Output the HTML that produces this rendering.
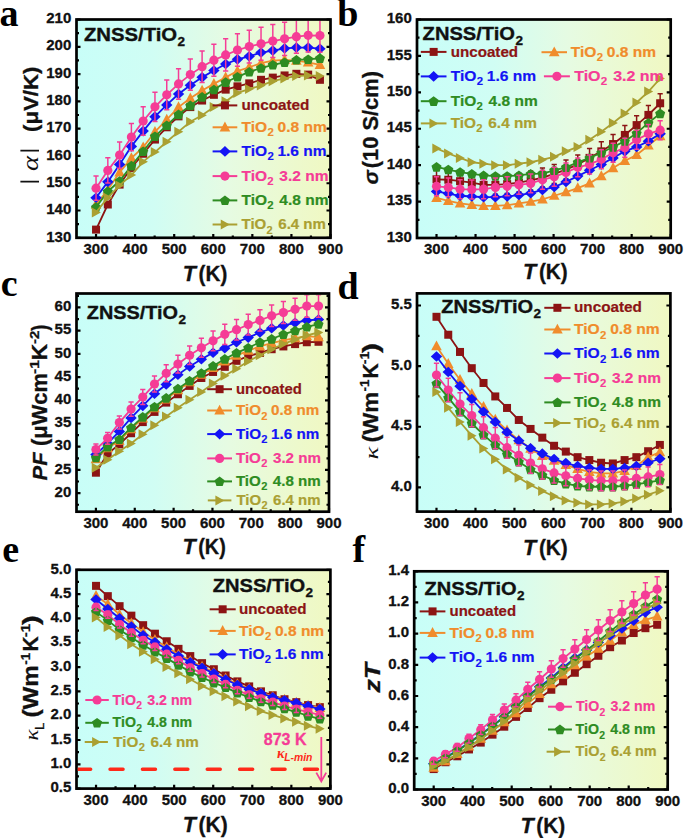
<!DOCTYPE html>
<html><head><meta charset="utf-8"><style>
html,body{margin:0;padding:0;background:#fff;}
svg{display:block;}
text{font-family:"Liberation Sans",sans-serif;}
.tl{font-weight:bold;font-size:15px;fill:#111;stroke:#111;stroke-width:0.3px;}
.lg{font-weight:bold;font-size:15px;}
.tt{font-weight:bold;font-size:19px;fill:#111;stroke:#111;stroke-width:0.35px;}
.pl{font-family:"Liberation Serif",serif;font-weight:bold;font-size:38px;fill:#000;}
.ax{font-weight:bold;font-size:21.6px;fill:#111;stroke:#111;stroke-width:0.3px;}
</style></head><body>
<svg width="685" height="838" viewBox="0 0 685 838">
<defs><linearGradient id="bga" gradientUnits="userSpaceOnUse" x1="76.5" y1="0" x2="330.5" y2="0"><stop offset="0" stop-color="#c8fef8"/><stop offset="0.3" stop-color="#d0fdf4"/><stop offset="0.6" stop-color="#e6fbe2"/><stop offset="1" stop-color="#f0f8c2"/></linearGradient><linearGradient id="bgb" gradientUnits="userSpaceOnUse" x1="417" y1="0" x2="670.7" y2="0"><stop offset="0" stop-color="#c8fef8"/><stop offset="0.3" stop-color="#d0fdf4"/><stop offset="0.6" stop-color="#e6fbe2"/><stop offset="1" stop-color="#f0f8c2"/></linearGradient><linearGradient id="bgc" gradientUnits="userSpaceOnUse" x1="76.5" y1="0" x2="329" y2="0"><stop offset="0" stop-color="#c8fef8"/><stop offset="0.3" stop-color="#d0fdf4"/><stop offset="0.6" stop-color="#e6fbe2"/><stop offset="1" stop-color="#f0f8c2"/></linearGradient><linearGradient id="bgd" gradientUnits="userSpaceOnUse" x1="417" y1="0" x2="670.4" y2="0"><stop offset="0" stop-color="#c8fef8"/><stop offset="0.3" stop-color="#d0fdf4"/><stop offset="0.6" stop-color="#e6fbe2"/><stop offset="1" stop-color="#f0f8c2"/></linearGradient><linearGradient id="bge" gradientUnits="userSpaceOnUse" x1="76.5" y1="0" x2="330.4" y2="0"><stop offset="0" stop-color="#c8fef8"/><stop offset="0.3" stop-color="#d0fdf4"/><stop offset="0.6" stop-color="#e6fbe2"/><stop offset="1" stop-color="#f0f8c2"/></linearGradient><linearGradient id="bgf" gradientUnits="userSpaceOnUse" x1="414.2" y1="0" x2="667.7" y2="0"><stop offset="0" stop-color="#c8fef8"/><stop offset="0.3" stop-color="#d0fdf4"/><stop offset="0.6" stop-color="#e6fbe2"/><stop offset="1" stop-color="#f0f8c2"/></linearGradient></defs>
<rect x="76.5" y="19.5" width="254.00" height="218.30" fill="url(#bga)"/>
<clipPath id="ca"><rect x="77.7" y="20.7" width="251.60" height="215.90"/></clipPath>
<path d="M96.04,237.8v-3.9M135.12,237.8v-3.9M174.19,237.8v-3.9M213.27,237.8v-3.9M252.35,237.8v-3.9M291.42,237.8v-3.9M330.50,237.8v-3.9M115.58,237.8v-2.4M154.65,237.8v-2.4M193.73,237.8v-2.4M232.81,237.8v-2.4M271.88,237.8v-2.4M310.96,237.8v-2.4M76.5,237.80h4.0M330.5,237.80h-4.0M76.5,224.16h2.5M330.5,224.16h-2.5M76.5,210.51h4.0M330.5,210.51h-4.0M76.5,196.87h2.5M330.5,196.87h-2.5M76.5,183.23h4.0M330.5,183.23h-4.0M76.5,169.58h2.5M330.5,169.58h-2.5M76.5,155.94h4.0M330.5,155.94h-4.0M76.5,142.29h2.5M330.5,142.29h-2.5M76.5,128.65h4.0M330.5,128.65h-4.0M76.5,115.01h2.5M330.5,115.01h-2.5M76.5,101.36h4.0M330.5,101.36h-4.0M76.5,87.72h2.5M330.5,87.72h-2.5M76.5,74.07h4.0M330.5,74.07h-4.0M76.5,60.43h2.5M330.5,60.43h-2.5M76.5,46.79h4.0M330.5,46.79h-4.0M76.5,33.14h2.5M330.5,33.14h-2.5M76.5,19.50h4.0M330.5,19.50h-4.0" stroke="#000" stroke-width="2.2" fill="none"/>
<g clip-path="url(#ca)">
<polyline points="96.04,229.61 107.82,204.51 119.61,184.59 131.39,167.94 143.18,153.75 154.96,139.56 166.75,127.29 178.53,116.37 190.32,107.09 202.10,100.54 213.89,94.81 225.67,89.63 237.46,86.35 249.24,83.35 261.03,79.81 272.81,77.62 284.59,75.44 296.38,73.80 308.16,74.62 319.95,79.81" fill="none" stroke="#8c1414" stroke-width="1.8"/>
<rect x="92.04" y="225.61" width="8.00" height="8.00" fill="#8c1414"/>
<rect x="103.82" y="200.51" width="8.00" height="8.00" fill="#8c1414"/>
<rect x="115.61" y="180.59" width="8.00" height="8.00" fill="#8c1414"/>
<rect x="127.39" y="163.94" width="8.00" height="8.00" fill="#8c1414"/>
<rect x="139.18" y="149.75" width="8.00" height="8.00" fill="#8c1414"/>
<rect x="150.96" y="135.56" width="8.00" height="8.00" fill="#8c1414"/>
<rect x="162.75" y="123.29" width="8.00" height="8.00" fill="#8c1414"/>
<rect x="174.53" y="112.37" width="8.00" height="8.00" fill="#8c1414"/>
<rect x="186.32" y="103.09" width="8.00" height="8.00" fill="#8c1414"/>
<rect x="198.10" y="96.54" width="8.00" height="8.00" fill="#8c1414"/>
<rect x="209.89" y="90.81" width="8.00" height="8.00" fill="#8c1414"/>
<rect x="221.67" y="85.63" width="8.00" height="8.00" fill="#8c1414"/>
<rect x="233.46" y="82.35" width="8.00" height="8.00" fill="#8c1414"/>
<rect x="245.24" y="79.35" width="8.00" height="8.00" fill="#8c1414"/>
<rect x="257.03" y="75.81" width="8.00" height="8.00" fill="#8c1414"/>
<rect x="268.81" y="73.62" width="8.00" height="8.00" fill="#8c1414"/>
<rect x="280.59" y="71.44" width="8.00" height="8.00" fill="#8c1414"/>
<rect x="292.38" y="69.80" width="8.00" height="8.00" fill="#8c1414"/>
<rect x="304.16" y="70.62" width="8.00" height="8.00" fill="#8c1414"/>
<rect x="315.95" y="75.81" width="8.00" height="8.00" fill="#8c1414"/>
<polyline points="96.04,204.51 107.82,189.77 119.61,172.31 131.39,158.12 143.18,147.21 154.96,131.92 166.75,119.65 178.53,107.09 190.32,98.36 202.10,90.45 213.89,83.90 225.67,77.35 237.46,71.07 249.24,67.25 261.03,63.16 272.81,60.70 284.59,59.89 296.38,60.70 308.16,62.34 319.95,64.80" fill="none" stroke="#f08c2c" stroke-width="1.8"/>
<path d="M96.04,198.71L101.34,208.61L90.74,208.61Z" fill="#f08c2c"/>
<path d="M107.82,183.97L113.12,193.87L102.52,193.87Z" fill="#f08c2c"/>
<path d="M119.61,166.51L124.91,176.41L114.31,176.41Z" fill="#f08c2c"/>
<path d="M131.39,152.32L136.69,162.22L126.09,162.22Z" fill="#f08c2c"/>
<path d="M143.18,141.41L148.48,151.31L137.88,151.31Z" fill="#f08c2c"/>
<path d="M154.96,126.12L160.26,136.02L149.66,136.02Z" fill="#f08c2c"/>
<path d="M166.75,113.85L172.05,123.75L161.45,123.75Z" fill="#f08c2c"/>
<path d="M178.53,101.29L183.83,111.19L173.23,111.19Z" fill="#f08c2c"/>
<path d="M190.32,92.56L195.62,102.46L185.02,102.46Z" fill="#f08c2c"/>
<path d="M202.10,84.65L207.40,94.55L196.80,94.55Z" fill="#f08c2c"/>
<path d="M213.89,78.10L219.19,88.00L208.59,88.00Z" fill="#f08c2c"/>
<path d="M225.67,71.55L230.97,81.45L220.37,81.45Z" fill="#f08c2c"/>
<path d="M237.46,65.27L242.76,75.17L232.16,75.17Z" fill="#f08c2c"/>
<path d="M249.24,61.45L254.54,71.35L243.94,71.35Z" fill="#f08c2c"/>
<path d="M261.03,57.36L266.33,67.26L255.73,67.26Z" fill="#f08c2c"/>
<path d="M272.81,54.90L278.11,64.80L267.51,64.80Z" fill="#f08c2c"/>
<path d="M284.59,54.09L289.89,63.99L279.29,63.99Z" fill="#f08c2c"/>
<path d="M296.38,54.90L301.68,64.80L291.08,64.80Z" fill="#f08c2c"/>
<path d="M308.16,56.54L313.46,66.44L302.86,66.44Z" fill="#f08c2c"/>
<path d="M319.95,59.00L325.25,68.90L314.65,68.90Z" fill="#f08c2c"/>
<polyline points="96.04,197.69 107.82,181.86 119.61,164.40 131.39,146.39 143.18,131.11 154.96,116.64 166.75,104.91 178.53,93.99 190.32,85.26 202.10,77.35 213.89,70.53 225.67,63.98 237.46,59.34 249.24,56.34 261.03,52.52 272.81,50.61 284.59,48.42 296.38,47.61 308.16,47.61 319.95,48.70" fill="none" stroke="#1414f5" stroke-width="1.8"/>
<path d="M96.04,192.39L101.74,197.69L96.04,202.99L90.34,197.69Z" fill="#1414f5"/>
<path d="M107.82,176.56L113.52,181.86L107.82,187.16L102.12,181.86Z" fill="#1414f5"/>
<path d="M119.61,159.10L125.31,164.40L119.61,169.70L113.91,164.40Z" fill="#1414f5"/>
<path d="M131.39,141.09L137.09,146.39L131.39,151.69L125.69,146.39Z" fill="#1414f5"/>
<path d="M143.18,125.81L148.88,131.11L143.18,136.41L137.48,131.11Z" fill="#1414f5"/>
<path d="M154.96,111.34L160.66,116.64L154.96,121.94L149.26,116.64Z" fill="#1414f5"/>
<path d="M166.75,99.61L172.45,104.91L166.75,110.21L161.05,104.91Z" fill="#1414f5"/>
<path d="M178.53,88.69L184.23,93.99L178.53,99.29L172.83,93.99Z" fill="#1414f5"/>
<path d="M190.32,79.96L196.02,85.26L190.32,90.56L184.62,85.26Z" fill="#1414f5"/>
<path d="M202.10,72.05L207.80,77.35L202.10,82.65L196.40,77.35Z" fill="#1414f5"/>
<path d="M213.89,65.23L219.59,70.53L213.89,75.83L208.19,70.53Z" fill="#1414f5"/>
<path d="M225.67,58.68L231.37,63.98L225.67,69.28L219.97,63.98Z" fill="#1414f5"/>
<path d="M237.46,54.04L243.16,59.34L237.46,64.64L231.76,59.34Z" fill="#1414f5"/>
<path d="M249.24,51.04L254.94,56.34L249.24,61.64L243.54,56.34Z" fill="#1414f5"/>
<path d="M261.03,47.22L266.73,52.52L261.03,57.82L255.33,52.52Z" fill="#1414f5"/>
<path d="M272.81,45.31L278.51,50.61L272.81,55.91L267.11,50.61Z" fill="#1414f5"/>
<path d="M284.59,43.12L290.29,48.42L284.59,53.72L278.89,48.42Z" fill="#1414f5"/>
<path d="M296.38,42.31L302.08,47.61L296.38,52.91L290.68,47.61Z" fill="#1414f5"/>
<path d="M308.16,42.31L313.86,47.61L308.16,52.91L302.46,47.61Z" fill="#1414f5"/>
<path d="M319.95,43.40L325.65,48.70L319.95,54.00L314.25,48.70Z" fill="#1414f5"/>
<polyline points="96.04,188.14 107.82,170.40 119.61,155.12 131.39,137.11 143.18,121.01 154.96,106.82 166.75,94.81 178.53,83.90 190.32,74.62 202.10,66.71 213.89,60.16 225.67,54.97 237.46,50.06 249.24,46.51 261.03,43.79 272.81,41.06 284.59,38.87 296.38,36.69 308.16,35.33 319.95,35.60" fill="none" stroke="#f53c96" stroke-width="1.8"/>
<circle cx="96.04" cy="188.14" r="4.6" fill="#f53c96"/>
<circle cx="107.82" cy="170.40" r="4.6" fill="#f53c96"/>
<circle cx="119.61" cy="155.12" r="4.6" fill="#f53c96"/>
<circle cx="131.39" cy="137.11" r="4.6" fill="#f53c96"/>
<circle cx="143.18" cy="121.01" r="4.6" fill="#f53c96"/>
<circle cx="154.96" cy="106.82" r="4.6" fill="#f53c96"/>
<circle cx="166.75" cy="94.81" r="4.6" fill="#f53c96"/>
<circle cx="178.53" cy="83.90" r="4.6" fill="#f53c96"/>
<circle cx="190.32" cy="74.62" r="4.6" fill="#f53c96"/>
<circle cx="202.10" cy="66.71" r="4.6" fill="#f53c96"/>
<circle cx="213.89" cy="60.16" r="4.6" fill="#f53c96"/>
<circle cx="225.67" cy="54.97" r="4.6" fill="#f53c96"/>
<circle cx="237.46" cy="50.06" r="4.6" fill="#f53c96"/>
<circle cx="249.24" cy="46.51" r="4.6" fill="#f53c96"/>
<circle cx="261.03" cy="43.79" r="4.6" fill="#f53c96"/>
<circle cx="272.81" cy="41.06" r="4.6" fill="#f53c96"/>
<circle cx="284.59" cy="38.87" r="4.6" fill="#f53c96"/>
<circle cx="296.38" cy="36.69" r="4.6" fill="#f53c96"/>
<circle cx="308.16" cy="35.33" r="4.6" fill="#f53c96"/>
<circle cx="319.95" cy="35.60" r="4.6" fill="#f53c96"/>
<polyline points="96.04,207.24 107.82,191.41 119.61,181.04 131.39,165.76 143.18,151.30 154.96,136.29 166.75,125.38 178.53,114.46 190.32,105.46 202.10,97.00 213.89,89.63 225.67,82.26 237.46,76.80 249.24,71.89 261.03,68.07 272.81,64.80 284.59,62.34 296.38,59.89 308.16,59.34 319.95,58.25" fill="none" stroke="#2e8c22" stroke-width="1.8"/>
<path d="M96.04,202.34L91.00,206.00L92.92,211.93L99.15,211.93L101.08,206.00Z" fill="#2e8c22"/>
<path d="M107.82,186.51L102.78,190.17L104.71,196.10L110.94,196.10L112.86,190.17Z" fill="#2e8c22"/>
<path d="M119.61,176.14L114.57,179.80L116.49,185.73L122.72,185.73L124.65,179.80Z" fill="#2e8c22"/>
<path d="M131.39,160.86L126.35,164.52L128.28,170.45L134.51,170.45L136.43,164.52Z" fill="#2e8c22"/>
<path d="M143.18,146.40L138.14,150.06L140.06,155.99L146.29,155.99L148.22,150.06Z" fill="#2e8c22"/>
<path d="M154.96,131.39L149.92,135.05L151.85,140.98L158.08,140.98L160.00,135.05Z" fill="#2e8c22"/>
<path d="M166.75,120.48L161.71,124.14L163.63,130.06L169.86,130.06L171.79,124.14Z" fill="#2e8c22"/>
<path d="M178.53,109.56L173.49,113.22L175.42,119.15L181.65,119.15L183.57,113.22Z" fill="#2e8c22"/>
<path d="M190.32,100.56L185.28,104.22L187.20,110.14L193.43,110.14L195.36,104.22Z" fill="#2e8c22"/>
<path d="M202.10,92.10L197.06,95.76L198.99,101.68L205.22,101.68L207.14,95.76Z" fill="#2e8c22"/>
<path d="M213.89,84.73L208.85,88.39L210.77,94.32L217.00,94.32L218.93,88.39Z" fill="#2e8c22"/>
<path d="M225.67,77.36L220.63,81.02L222.56,86.95L228.79,86.95L230.71,81.02Z" fill="#2e8c22"/>
<path d="M237.46,71.90L232.42,75.57L234.34,81.49L240.57,81.49L242.50,75.57Z" fill="#2e8c22"/>
<path d="M249.24,66.99L244.20,70.65L246.13,76.58L252.36,76.58L254.28,70.65Z" fill="#2e8c22"/>
<path d="M261.03,63.17L255.98,66.83L257.91,72.76L264.14,72.76L266.07,66.83Z" fill="#2e8c22"/>
<path d="M272.81,59.90L267.77,63.56L269.69,69.49L275.93,69.49L277.85,63.56Z" fill="#2e8c22"/>
<path d="M284.59,57.44L279.55,61.10L281.48,67.03L287.71,67.03L289.64,61.10Z" fill="#2e8c22"/>
<path d="M296.38,54.99L291.34,58.65L293.26,64.57L299.49,64.57L301.42,58.65Z" fill="#2e8c22"/>
<path d="M308.16,54.44L303.12,58.10L305.05,64.03L311.28,64.03L313.21,58.10Z" fill="#2e8c22"/>
<path d="M319.95,53.35L314.91,57.01L316.83,62.94L323.06,62.94L324.99,57.01Z" fill="#2e8c22"/>
<polyline points="96.04,212.42 107.82,197.69 119.61,185.41 131.39,175.04 143.18,161.67 154.96,152.12 166.75,141.75 178.53,131.65 190.32,121.83 202.10,115.28 213.89,107.09 225.67,101.36 237.46,92.90 249.24,89.08 261.03,85.54 272.81,81.17 284.59,78.44 296.38,75.99 308.16,75.44 319.95,75.99" fill="none" stroke="#aaa032" stroke-width="1.8"/>
<path d="M100.84,212.42L91.84,207.42L91.84,217.42Z" fill="#aaa032"/>
<path d="M112.62,197.69L103.62,192.69L103.62,202.69Z" fill="#aaa032"/>
<path d="M124.41,185.41L115.41,180.41L115.41,190.41Z" fill="#aaa032"/>
<path d="M136.19,175.04L127.19,170.04L127.19,180.04Z" fill="#aaa032"/>
<path d="M147.98,161.67L138.98,156.67L138.98,166.67Z" fill="#aaa032"/>
<path d="M159.76,152.12L150.76,147.12L150.76,157.12Z" fill="#aaa032"/>
<path d="M171.55,141.75L162.55,136.75L162.55,146.75Z" fill="#aaa032"/>
<path d="M183.33,131.65L174.33,126.65L174.33,136.65Z" fill="#aaa032"/>
<path d="M195.12,121.83L186.12,116.83L186.12,126.83Z" fill="#aaa032"/>
<path d="M206.90,115.28L197.90,110.28L197.90,120.28Z" fill="#aaa032"/>
<path d="M218.69,107.09L209.69,102.09L209.69,112.09Z" fill="#aaa032"/>
<path d="M230.47,101.36L221.47,96.36L221.47,106.36Z" fill="#aaa032"/>
<path d="M242.26,92.90L233.26,87.90L233.26,97.90Z" fill="#aaa032"/>
<path d="M254.04,89.08L245.04,84.08L245.04,94.08Z" fill="#aaa032"/>
<path d="M265.83,85.54L256.83,80.54L256.83,90.54Z" fill="#aaa032"/>
<path d="M277.61,81.17L268.61,76.17L268.61,86.17Z" fill="#aaa032"/>
<path d="M289.39,78.44L280.39,73.44L280.39,83.44Z" fill="#aaa032"/>
<path d="M301.18,75.99L292.18,70.99L292.18,80.99Z" fill="#aaa032"/>
<path d="M312.96,75.44L303.96,70.44L303.96,80.44Z" fill="#aaa032"/>
<path d="M324.75,75.99L315.75,70.99L315.75,80.99Z" fill="#aaa032"/>
<path d="M96.04,176.00V200.27M93.44,176.00h5.2M93.44,200.27h5.2M107.82,157.74V183.06M105.22,157.74h5.2M105.22,183.06h5.2M119.61,142.00V168.24M117.01,142.00h5.2M117.01,168.24h5.2M131.39,123.45V150.77M128.79,123.45h5.2M128.79,150.77h5.2M143.18,106.86V135.16M140.58,106.86h5.2M140.58,135.16h5.2M154.96,92.25V121.39M152.36,92.25h5.2M152.36,121.39h5.2M166.75,79.88V109.75M164.15,79.88h5.2M164.15,109.75h5.2M178.53,68.64V99.16M175.93,68.64h5.2M175.93,99.16h5.2M190.32,59.08V90.16M187.72,59.08h5.2M187.72,90.16h5.2M202.10,50.93V82.48M199.50,50.93h5.2M199.50,82.48h5.2M213.89,44.19V76.13M211.29,44.19h5.2M211.29,76.13h5.2M225.67,38.85V71.10M223.07,38.85h5.2M223.07,71.10h5.2M237.46,33.79V66.34M234.86,33.79h5.2M234.86,66.34h5.2M249.24,30.13V62.90M246.64,30.13h5.2M246.64,62.90h5.2M261.03,27.32V60.25M258.43,27.32h5.2M258.43,60.25h5.2M272.81,24.51V57.60M270.21,24.51h5.2M270.21,57.60h5.2M284.59,22.26V55.48M281.99,22.26h5.2M281.99,55.48h5.2M296.38,20.02V53.37M293.78,20.02h5.2M293.78,53.37h5.2M308.16,18.61V52.04M305.56,18.61h5.2M305.56,52.04h5.2M319.95,18.89V52.31M317.35,18.89h5.2M317.35,52.31h5.2" stroke="#f53c96" stroke-width="1.5" fill="none"/>
</g>
<rect x="76.5" y="19.5" width="254.00" height="218.30" fill="none" stroke="#000" stroke-width="2.7"/>
<text x="96.04" y="253.80" class="tl" text-anchor="middle">300</text>
<text x="135.12" y="253.80" class="tl" text-anchor="middle">400</text>
<text x="174.19" y="253.80" class="tl" text-anchor="middle">500</text>
<text x="213.27" y="253.80" class="tl" text-anchor="middle">600</text>
<text x="252.35" y="253.80" class="tl" text-anchor="middle">700</text>
<text x="291.42" y="253.80" class="tl" text-anchor="middle">800</text>
<text x="330.50" y="253.80" class="tl" text-anchor="middle">900</text>
<text x="71.30" y="241.50" class="tl" text-anchor="end">130</text>
<text x="71.30" y="214.21" class="tl" text-anchor="end">140</text>
<text x="71.30" y="186.93" class="tl" text-anchor="end">150</text>
<text x="71.30" y="159.64" class="tl" text-anchor="end">160</text>
<text x="71.30" y="132.35" class="tl" text-anchor="end">170</text>
<text x="71.30" y="105.06" class="tl" text-anchor="end">180</text>
<text x="71.30" y="77.77" class="tl" text-anchor="end">190</text>
<text x="71.30" y="50.49" class="tl" text-anchor="end">200</text>
<text x="71.30" y="23.20" class="tl" text-anchor="end">210</text>
<rect x="417" y="19.5" width="253.70" height="218.50" fill="url(#bgb)"/>
<clipPath id="cb"><rect x="418.2" y="20.7" width="251.30" height="216.10"/></clipPath>
<path d="M436.52,238v-3.9M475.55,238v-3.9M514.58,238v-3.9M553.61,238v-3.9M592.64,238v-3.9M631.67,238v-3.9M670.70,238v-3.9M456.03,238v-2.4M495.06,238v-2.4M534.09,238v-2.4M573.12,238v-2.4M612.15,238v-2.4M651.18,238v-2.4M417,238.00h4.0M670.7,238.00h-4.0M417,219.79h2.5M670.7,219.79h-2.5M417,201.58h4.0M670.7,201.58h-4.0M417,183.38h2.5M670.7,183.38h-2.5M417,165.17h4.0M670.7,165.17h-4.0M417,146.96h2.5M670.7,146.96h-2.5M417,128.75h4.0M670.7,128.75h-4.0M417,110.54h2.5M670.7,110.54h-2.5M417,92.33h4.0M670.7,92.33h-4.0M417,74.12h2.5M670.7,74.12h-2.5M417,55.92h4.0M670.7,55.92h-4.0M417,37.71h2.5M670.7,37.71h-2.5M417,19.50h4.0M670.7,19.50h-4.0" stroke="#000" stroke-width="2.2" fill="none"/>
<g clip-path="url(#cb)">
<polyline points="436.52,179.30 448.29,179.73 460.06,181.19 471.83,182.65 483.60,184.83 495.37,184.83 507.14,184.10 518.91,182.65 530.68,180.46 542.45,177.55 554.22,173.91 565.99,169.54 577.77,164.44 589.54,157.88 601.31,151.33 613.08,144.04 624.85,134.94 636.62,125.11 648.39,114.91 660.16,103.26" fill="none" stroke="#8c1414" stroke-width="1.8"/>
<rect x="432.52" y="175.30" width="8.00" height="8.00" fill="#8c1414"/>
<rect x="444.29" y="175.73" width="8.00" height="8.00" fill="#8c1414"/>
<rect x="456.06" y="177.19" width="8.00" height="8.00" fill="#8c1414"/>
<rect x="467.83" y="178.65" width="8.00" height="8.00" fill="#8c1414"/>
<rect x="479.60" y="180.83" width="8.00" height="8.00" fill="#8c1414"/>
<rect x="491.37" y="180.83" width="8.00" height="8.00" fill="#8c1414"/>
<rect x="503.14" y="180.10" width="8.00" height="8.00" fill="#8c1414"/>
<rect x="514.91" y="178.65" width="8.00" height="8.00" fill="#8c1414"/>
<rect x="526.68" y="176.46" width="8.00" height="8.00" fill="#8c1414"/>
<rect x="538.45" y="173.55" width="8.00" height="8.00" fill="#8c1414"/>
<rect x="550.22" y="169.91" width="8.00" height="8.00" fill="#8c1414"/>
<rect x="561.99" y="165.54" width="8.00" height="8.00" fill="#8c1414"/>
<rect x="573.77" y="160.44" width="8.00" height="8.00" fill="#8c1414"/>
<rect x="585.54" y="153.88" width="8.00" height="8.00" fill="#8c1414"/>
<rect x="597.31" y="147.33" width="8.00" height="8.00" fill="#8c1414"/>
<rect x="609.08" y="140.04" width="8.00" height="8.00" fill="#8c1414"/>
<rect x="620.85" y="130.94" width="8.00" height="8.00" fill="#8c1414"/>
<rect x="632.62" y="121.11" width="8.00" height="8.00" fill="#8c1414"/>
<rect x="644.39" y="110.91" width="8.00" height="8.00" fill="#8c1414"/>
<rect x="656.16" y="99.26" width="8.00" height="8.00" fill="#8c1414"/>
<path d="M436.52,169.83V188.76M433.92,169.83h5.2M433.92,188.76h5.2M448.29,170.26V189.20M445.69,170.26h5.2M445.69,189.20h5.2M460.06,171.72V190.66M457.46,171.72h5.2M457.46,190.66h5.2M471.83,173.18V192.12M469.23,173.18h5.2M469.23,192.12h5.2M483.60,175.36V194.30M481.00,175.36h5.2M481.00,194.30h5.2M495.37,175.36V194.30M492.77,175.36h5.2M492.77,194.30h5.2M507.14,174.63V193.57M504.54,174.63h5.2M504.54,193.57h5.2M518.91,173.18V192.12M516.31,173.18h5.2M516.31,192.12h5.2M530.68,170.99V189.93M528.08,170.99h5.2M528.08,189.93h5.2M542.45,168.08V187.02M539.85,168.08h5.2M539.85,187.02h5.2M554.22,164.44V183.38M551.62,164.44h5.2M551.62,183.38h5.2M565.99,160.07V179.01M563.39,160.07h5.2M563.39,179.01h5.2M577.77,154.97V173.91M575.17,154.97h5.2M575.17,173.91h5.2M589.54,148.41V167.35M586.94,148.41h5.2M586.94,167.35h5.2M601.31,141.86V160.80M598.71,141.86h5.2M598.71,160.80h5.2M613.08,134.58V153.51M610.48,134.58h5.2M610.48,153.51h5.2M624.85,125.47V144.41M622.25,125.47h5.2M622.25,144.41h5.2M636.62,115.64V134.58M634.02,115.64h5.2M634.02,134.58h5.2M648.39,105.44V124.38M645.79,105.44h5.2M645.79,124.38h5.2M660.16,93.79V112.73M657.56,93.79h5.2M657.56,112.73h5.2" stroke="#8c1414" stroke-width="1.5" fill="none"/>
<polyline points="436.52,197.94 448.29,200.86 460.06,203.40 471.83,204.86 483.60,205.95 495.37,205.95 507.14,205.22 518.91,203.40 530.68,201.58 542.45,199.40 554.22,195.76 565.99,192.11 577.77,188.11 589.54,183.38 601.31,176.09 613.08,168.08 624.85,160.80 636.62,154.97 648.39,145.50 660.16,136.03" fill="none" stroke="#f08c2c" stroke-width="1.8"/>
<path d="M436.52,192.14L441.82,202.04L431.22,202.04Z" fill="#f08c2c"/>
<path d="M448.29,195.06L453.59,204.96L442.99,204.96Z" fill="#f08c2c"/>
<path d="M460.06,197.60L465.36,207.50L454.76,207.50Z" fill="#f08c2c"/>
<path d="M471.83,199.06L477.13,208.96L466.53,208.96Z" fill="#f08c2c"/>
<path d="M483.60,200.15L488.90,210.05L478.30,210.05Z" fill="#f08c2c"/>
<path d="M495.37,200.15L500.67,210.05L490.07,210.05Z" fill="#f08c2c"/>
<path d="M507.14,199.42L512.44,209.32L501.84,209.32Z" fill="#f08c2c"/>
<path d="M518.91,197.60L524.21,207.50L513.61,207.50Z" fill="#f08c2c"/>
<path d="M530.68,195.78L535.98,205.68L525.38,205.68Z" fill="#f08c2c"/>
<path d="M542.45,193.60L547.75,203.50L537.15,203.50Z" fill="#f08c2c"/>
<path d="M554.22,189.96L559.52,199.86L548.92,199.86Z" fill="#f08c2c"/>
<path d="M565.99,186.31L571.29,196.21L560.69,196.21Z" fill="#f08c2c"/>
<path d="M577.77,182.31L583.07,192.21L572.47,192.21Z" fill="#f08c2c"/>
<path d="M589.54,177.57L594.84,187.47L584.24,187.47Z" fill="#f08c2c"/>
<path d="M601.31,170.29L606.61,180.19L596.01,180.19Z" fill="#f08c2c"/>
<path d="M613.08,162.28L618.38,172.18L607.78,172.18Z" fill="#f08c2c"/>
<path d="M624.85,155.00L630.15,164.90L619.55,164.90Z" fill="#f08c2c"/>
<path d="M636.62,149.17L641.92,159.07L631.32,159.07Z" fill="#f08c2c"/>
<path d="M648.39,139.70L653.69,149.60L643.09,149.60Z" fill="#f08c2c"/>
<path d="M660.16,130.23L665.46,140.13L654.86,140.13Z" fill="#f08c2c"/>
<polyline points="436.52,191.39 448.29,193.57 460.06,195.76 471.83,196.49 483.60,197.21 495.37,197.21 507.14,196.49 518.91,195.03 530.68,193.21 542.45,189.93 554.22,187.02 565.99,181.92 577.77,176.09 589.54,170.26 601.31,164.44 613.08,157.88 624.85,151.33 636.62,146.96 648.39,141.13 660.16,133.85" fill="none" stroke="#1414f5" stroke-width="1.8"/>
<path d="M436.52,186.09L442.22,191.39L436.52,196.69L430.82,191.39Z" fill="#1414f5"/>
<path d="M448.29,188.27L453.99,193.57L448.29,198.87L442.59,193.57Z" fill="#1414f5"/>
<path d="M460.06,190.46L465.76,195.76L460.06,201.06L454.36,195.76Z" fill="#1414f5"/>
<path d="M471.83,191.19L477.53,196.49L471.83,201.79L466.13,196.49Z" fill="#1414f5"/>
<path d="M483.60,191.91L489.30,197.21L483.60,202.51L477.90,197.21Z" fill="#1414f5"/>
<path d="M495.37,191.91L501.07,197.21L495.37,202.51L489.67,197.21Z" fill="#1414f5"/>
<path d="M507.14,191.19L512.84,196.49L507.14,201.79L501.44,196.49Z" fill="#1414f5"/>
<path d="M518.91,189.73L524.61,195.03L518.91,200.33L513.21,195.03Z" fill="#1414f5"/>
<path d="M530.68,187.91L536.38,193.21L530.68,198.51L524.98,193.21Z" fill="#1414f5"/>
<path d="M542.45,184.63L548.15,189.93L542.45,195.23L536.75,189.93Z" fill="#1414f5"/>
<path d="M554.22,181.72L559.92,187.02L554.22,192.32L548.52,187.02Z" fill="#1414f5"/>
<path d="M565.99,176.62L571.69,181.92L565.99,187.22L560.29,181.92Z" fill="#1414f5"/>
<path d="M577.77,170.79L583.47,176.09L577.77,181.39L572.07,176.09Z" fill="#1414f5"/>
<path d="M589.54,164.96L595.24,170.26L589.54,175.56L583.84,170.26Z" fill="#1414f5"/>
<path d="M601.31,159.14L607.01,164.44L601.31,169.74L595.61,164.44Z" fill="#1414f5"/>
<path d="M613.08,152.58L618.78,157.88L613.08,163.18L607.38,157.88Z" fill="#1414f5"/>
<path d="M624.85,146.03L630.55,151.33L624.85,156.63L619.15,151.33Z" fill="#1414f5"/>
<path d="M636.62,141.66L642.32,146.96L636.62,152.26L630.92,146.96Z" fill="#1414f5"/>
<path d="M648.39,135.83L654.09,141.13L648.39,146.43L642.69,141.13Z" fill="#1414f5"/>
<path d="M660.16,128.55L665.86,133.85L660.16,139.15L654.46,133.85Z" fill="#1414f5"/>
<polyline points="436.52,186.29 448.29,187.38 460.06,189.20 471.83,189.57 483.60,189.20 495.37,187.38 507.14,186.29 518.91,184.83 530.68,183.38 542.45,179.73 554.22,176.82 565.99,172.45 577.77,167.35 589.54,164.44 601.31,159.34 613.08,152.79 624.85,147.69 636.62,139.68 648.39,133.85 660.16,130.21" fill="none" stroke="#f53c96" stroke-width="1.8"/>
<circle cx="436.52" cy="186.29" r="4.6" fill="#f53c96"/>
<circle cx="448.29" cy="187.38" r="4.6" fill="#f53c96"/>
<circle cx="460.06" cy="189.20" r="4.6" fill="#f53c96"/>
<circle cx="471.83" cy="189.57" r="4.6" fill="#f53c96"/>
<circle cx="483.60" cy="189.20" r="4.6" fill="#f53c96"/>
<circle cx="495.37" cy="187.38" r="4.6" fill="#f53c96"/>
<circle cx="507.14" cy="186.29" r="4.6" fill="#f53c96"/>
<circle cx="518.91" cy="184.83" r="4.6" fill="#f53c96"/>
<circle cx="530.68" cy="183.38" r="4.6" fill="#f53c96"/>
<circle cx="542.45" cy="179.73" r="4.6" fill="#f53c96"/>
<circle cx="554.22" cy="176.82" r="4.6" fill="#f53c96"/>
<circle cx="565.99" cy="172.45" r="4.6" fill="#f53c96"/>
<circle cx="577.77" cy="167.35" r="4.6" fill="#f53c96"/>
<circle cx="589.54" cy="164.44" r="4.6" fill="#f53c96"/>
<circle cx="601.31" cy="159.34" r="4.6" fill="#f53c96"/>
<circle cx="613.08" cy="152.79" r="4.6" fill="#f53c96"/>
<circle cx="624.85" cy="147.69" r="4.6" fill="#f53c96"/>
<circle cx="636.62" cy="139.68" r="4.6" fill="#f53c96"/>
<circle cx="648.39" cy="133.85" r="4.6" fill="#f53c96"/>
<circle cx="660.16" cy="130.21" r="4.6" fill="#f53c96"/>
<polyline points="436.52,166.99 448.29,169.54 460.06,172.09 471.83,173.91 483.60,175.36 495.37,176.09 507.14,176.09 518.91,175.36 530.68,173.91 542.45,173.54 554.22,170.26 565.99,167.35 577.77,162.25 589.54,157.88 601.31,152.79 613.08,146.96 624.85,141.13 636.62,133.12 648.39,122.92 660.16,113.46" fill="none" stroke="#2e8c22" stroke-width="1.8"/>
<path d="M436.52,162.09L431.47,165.75L433.40,171.68L439.63,171.68L441.56,165.75Z" fill="#2e8c22"/>
<path d="M448.29,164.64L443.25,168.30L445.17,174.22L451.40,174.22L453.33,168.30Z" fill="#2e8c22"/>
<path d="M460.06,167.19L455.02,170.85L456.94,176.77L463.17,176.77L465.10,170.85Z" fill="#2e8c22"/>
<path d="M471.83,169.01L466.79,172.67L468.71,178.59L474.94,178.59L476.87,172.67Z" fill="#2e8c22"/>
<path d="M483.60,170.46L478.56,174.13L480.48,180.05L486.71,180.05L488.64,174.13Z" fill="#2e8c22"/>
<path d="M495.37,171.19L490.33,174.85L492.25,180.78L498.48,180.78L500.41,174.85Z" fill="#2e8c22"/>
<path d="M507.14,171.19L502.10,174.85L504.03,180.78L510.26,180.78L512.18,174.85Z" fill="#2e8c22"/>
<path d="M518.91,170.46L513.87,174.13L515.80,180.05L522.03,180.05L523.95,174.13Z" fill="#2e8c22"/>
<path d="M530.68,169.01L525.64,172.67L527.57,178.59L533.80,178.59L535.72,172.67Z" fill="#2e8c22"/>
<path d="M542.45,168.64L537.41,172.30L539.34,178.23L545.57,178.23L547.49,172.30Z" fill="#2e8c22"/>
<path d="M554.22,165.36L549.18,169.03L551.11,174.95L557.34,174.95L559.26,169.03Z" fill="#2e8c22"/>
<path d="M565.99,162.45L560.95,166.11L562.88,172.04L569.11,172.04L571.04,166.11Z" fill="#2e8c22"/>
<path d="M577.77,157.35L572.73,161.02L574.65,166.94L580.88,166.94L582.81,161.02Z" fill="#2e8c22"/>
<path d="M589.54,152.98L584.50,156.65L586.42,162.57L592.65,162.57L594.58,156.65Z" fill="#2e8c22"/>
<path d="M601.31,147.89L596.27,151.55L598.19,157.47L604.42,157.47L606.35,151.55Z" fill="#2e8c22"/>
<path d="M613.08,142.06L608.04,145.72L609.96,151.65L616.19,151.65L618.12,145.72Z" fill="#2e8c22"/>
<path d="M624.85,136.23L619.81,139.89L621.73,145.82L627.96,145.82L629.89,139.89Z" fill="#2e8c22"/>
<path d="M636.62,128.22L631.58,131.88L633.50,137.81L639.74,137.81L641.66,131.88Z" fill="#2e8c22"/>
<path d="M648.39,118.02L643.35,121.69L645.28,127.61L651.51,127.61L653.43,121.69Z" fill="#2e8c22"/>
<path d="M660.16,108.56L655.12,112.22L657.05,118.14L663.28,118.14L665.20,112.22Z" fill="#2e8c22"/>
<polyline points="436.52,148.41 448.29,153.51 460.06,157.88 471.83,162.25 483.60,163.71 495.37,165.17 507.14,165.17 518.91,163.71 530.68,162.25 542.45,159.70 554.22,156.79 565.99,151.33 577.77,146.96 589.54,139.68 601.31,131.66 613.08,122.92 624.85,113.46 636.62,102.53 648.39,91.61 660.16,78.49" fill="none" stroke="#aaa032" stroke-width="1.8"/>
<path d="M441.32,148.41L432.32,143.41L432.32,153.41Z" fill="#aaa032"/>
<path d="M453.09,153.51L444.09,148.51L444.09,158.51Z" fill="#aaa032"/>
<path d="M464.86,157.88L455.86,152.88L455.86,162.88Z" fill="#aaa032"/>
<path d="M476.63,162.25L467.63,157.25L467.63,167.25Z" fill="#aaa032"/>
<path d="M488.40,163.71L479.40,158.71L479.40,168.71Z" fill="#aaa032"/>
<path d="M500.17,165.17L491.17,160.17L491.17,170.17Z" fill="#aaa032"/>
<path d="M511.94,165.17L502.94,160.17L502.94,170.17Z" fill="#aaa032"/>
<path d="M523.71,163.71L514.71,158.71L514.71,168.71Z" fill="#aaa032"/>
<path d="M535.48,162.25L526.48,157.25L526.48,167.25Z" fill="#aaa032"/>
<path d="M547.25,159.70L538.25,154.70L538.25,164.70Z" fill="#aaa032"/>
<path d="M559.02,156.79L550.02,151.79L550.02,161.79Z" fill="#aaa032"/>
<path d="M570.79,151.33L561.79,146.33L561.79,156.33Z" fill="#aaa032"/>
<path d="M582.57,146.96L573.57,141.96L573.57,151.96Z" fill="#aaa032"/>
<path d="M594.34,139.68L585.34,134.68L585.34,144.68Z" fill="#aaa032"/>
<path d="M606.11,131.66L597.11,126.66L597.11,136.66Z" fill="#aaa032"/>
<path d="M617.88,122.92L608.88,117.92L608.88,127.92Z" fill="#aaa032"/>
<path d="M629.65,113.46L620.65,108.46L620.65,118.46Z" fill="#aaa032"/>
<path d="M641.42,102.53L632.42,97.53L632.42,107.53Z" fill="#aaa032"/>
<path d="M653.19,91.61L644.19,86.61L644.19,96.61Z" fill="#aaa032"/>
<path d="M664.96,78.49L655.96,73.49L655.96,83.49Z" fill="#aaa032"/>
<path d="M436.52,176.82V195.76M433.92,176.82h5.2M433.92,195.76h5.2M448.29,177.91V196.85M445.69,177.91h5.2M445.69,196.85h5.2M460.06,179.73V198.67M457.46,179.73h5.2M457.46,198.67h5.2M471.83,180.10V199.03M469.23,180.10h5.2M469.23,199.03h5.2M483.60,179.73V198.67M481.00,179.73h5.2M481.00,198.67h5.2M495.37,177.91V196.85M492.77,177.91h5.2M492.77,196.85h5.2M507.14,176.82V195.76M504.54,176.82h5.2M504.54,195.76h5.2M518.91,175.36V194.30M516.31,175.36h5.2M516.31,194.30h5.2M530.68,173.91V192.84M528.08,173.91h5.2M528.08,192.84h5.2M542.45,170.26V189.20M539.85,170.26h5.2M539.85,189.20h5.2M554.22,167.35V186.29M551.62,167.35h5.2M551.62,186.29h5.2M565.99,162.98V181.92M563.39,162.98h5.2M563.39,181.92h5.2M577.77,157.88V176.82M575.17,157.88h5.2M575.17,176.82h5.2M589.54,154.97V173.91M586.94,154.97h5.2M586.94,173.91h5.2M601.31,149.87V168.81M598.71,149.87h5.2M598.71,168.81h5.2M613.08,143.32V162.25M610.48,143.32h5.2M610.48,162.25h5.2M624.85,138.22V157.16M622.25,138.22h5.2M622.25,157.16h5.2M636.62,130.21V149.14M634.02,130.21h5.2M634.02,149.14h5.2M648.39,124.38V143.32M645.79,124.38h5.2M645.79,143.32h5.2M660.16,120.74V139.68M657.56,120.74h5.2M657.56,139.68h5.2" stroke="#f53c96" stroke-width="1.5" fill="none"/>
</g>
<rect x="417" y="19.5" width="253.70" height="218.50" fill="none" stroke="#000" stroke-width="2.7"/>
<text x="436.52" y="254.00" class="tl" text-anchor="middle">300</text>
<text x="475.55" y="254.00" class="tl" text-anchor="middle">400</text>
<text x="514.58" y="254.00" class="tl" text-anchor="middle">500</text>
<text x="553.61" y="254.00" class="tl" text-anchor="middle">600</text>
<text x="592.64" y="254.00" class="tl" text-anchor="middle">700</text>
<text x="631.67" y="254.00" class="tl" text-anchor="middle">800</text>
<text x="670.70" y="254.00" class="tl" text-anchor="middle">900</text>
<text x="411.80" y="241.70" class="tl" text-anchor="end">130</text>
<text x="411.80" y="205.28" class="tl" text-anchor="end">135</text>
<text x="411.80" y="168.87" class="tl" text-anchor="end">140</text>
<text x="411.80" y="132.45" class="tl" text-anchor="end">145</text>
<text x="411.80" y="96.03" class="tl" text-anchor="end">150</text>
<text x="411.80" y="59.62" class="tl" text-anchor="end">155</text>
<text x="411.80" y="23.20" class="tl" text-anchor="end">160</text>
<rect x="76.5" y="293.5" width="252.50" height="218.20" fill="url(#bgc)"/>
<clipPath id="cc"><rect x="77.7" y="294.7" width="250.10" height="215.80"/></clipPath>
<path d="M95.92,511.7v-3.9M134.77,511.7v-3.9M173.62,511.7v-3.9M212.46,511.7v-3.9M251.31,511.7v-3.9M290.15,511.7v-3.9M329.00,511.7v-3.9M115.35,511.7v-2.4M154.19,511.7v-2.4M193.04,511.7v-2.4M231.88,511.7v-2.4M270.73,511.7v-2.4M309.58,511.7v-2.4M76.5,504.74h2.5M329,504.74h-2.5M76.5,493.13h4.0M329,493.13h-4.0M76.5,481.52h2.5M329,481.52h-2.5M76.5,469.92h4.0M329,469.92h-4.0M76.5,458.31h2.5M329,458.31h-2.5M76.5,446.70h4.0M329,446.70h-4.0M76.5,435.10h2.5M329,435.10h-2.5M76.5,423.49h4.0M329,423.49h-4.0M76.5,411.89h2.5M329,411.89h-2.5M76.5,400.28h4.0M329,400.28h-4.0M76.5,388.67h2.5M329,388.67h-2.5M76.5,377.07h4.0M329,377.07h-4.0M76.5,365.46h2.5M329,365.46h-2.5M76.5,353.85h4.0M329,353.85h-4.0M76.5,342.25h2.5M329,342.25h-2.5M76.5,330.64h4.0M329,330.64h-4.0M76.5,319.03h2.5M329,319.03h-2.5M76.5,307.43h4.0M329,307.43h-4.0M76.5,295.82h2.5M329,295.82h-2.5" stroke="#000" stroke-width="2.2" fill="none"/>
<g clip-path="url(#cc)">
<polyline points="95.92,472.70 107.64,453.67 119.35,444.38 131.07,433.24 142.78,422.10 154.50,411.89 166.21,402.60 177.93,394.24 189.64,385.89 201.36,377.99 213.07,371.96 224.79,366.85 236.51,360.82 248.22,356.17 259.94,352.92 271.65,349.21 283.37,346.43 295.08,344.10 306.80,342.25 318.51,341.78" fill="none" stroke="#8c1414" stroke-width="1.8"/>
<rect x="91.92" y="468.70" width="8.00" height="8.00" fill="#8c1414"/>
<rect x="103.64" y="449.67" width="8.00" height="8.00" fill="#8c1414"/>
<rect x="115.35" y="440.38" width="8.00" height="8.00" fill="#8c1414"/>
<rect x="127.07" y="429.24" width="8.00" height="8.00" fill="#8c1414"/>
<rect x="138.78" y="418.10" width="8.00" height="8.00" fill="#8c1414"/>
<rect x="150.50" y="407.89" width="8.00" height="8.00" fill="#8c1414"/>
<rect x="162.21" y="398.60" width="8.00" height="8.00" fill="#8c1414"/>
<rect x="173.93" y="390.24" width="8.00" height="8.00" fill="#8c1414"/>
<rect x="185.64" y="381.89" width="8.00" height="8.00" fill="#8c1414"/>
<rect x="197.36" y="373.99" width="8.00" height="8.00" fill="#8c1414"/>
<rect x="209.07" y="367.96" width="8.00" height="8.00" fill="#8c1414"/>
<rect x="220.79" y="362.85" width="8.00" height="8.00" fill="#8c1414"/>
<rect x="232.51" y="356.82" width="8.00" height="8.00" fill="#8c1414"/>
<rect x="244.22" y="352.17" width="8.00" height="8.00" fill="#8c1414"/>
<rect x="255.94" y="348.92" width="8.00" height="8.00" fill="#8c1414"/>
<rect x="267.65" y="345.21" width="8.00" height="8.00" fill="#8c1414"/>
<rect x="279.37" y="342.43" width="8.00" height="8.00" fill="#8c1414"/>
<rect x="291.08" y="340.10" width="8.00" height="8.00" fill="#8c1414"/>
<rect x="302.80" y="338.25" width="8.00" height="8.00" fill="#8c1414"/>
<rect x="314.51" y="337.78" width="8.00" height="8.00" fill="#8c1414"/>
<polyline points="95.92,459.24 107.64,448.10 119.35,440.67 131.07,429.06 142.78,418.38 154.50,408.17 166.21,399.35 177.93,390.07 189.64,382.17 201.36,374.74 213.07,367.78 224.79,361.28 236.51,355.71 248.22,350.60 259.94,346.43 271.65,343.18 283.37,340.39 295.08,338.07 306.80,336.21 318.51,337.14" fill="none" stroke="#f08c2c" stroke-width="1.8"/>
<path d="M95.92,453.44L101.22,463.34L90.62,463.34Z" fill="#f08c2c"/>
<path d="M107.64,442.30L112.94,452.20L102.34,452.20Z" fill="#f08c2c"/>
<path d="M119.35,434.87L124.65,444.77L114.05,444.77Z" fill="#f08c2c"/>
<path d="M131.07,423.26L136.37,433.16L125.77,433.16Z" fill="#f08c2c"/>
<path d="M142.78,412.58L148.08,422.48L137.48,422.48Z" fill="#f08c2c"/>
<path d="M154.50,402.37L159.80,412.27L149.20,412.27Z" fill="#f08c2c"/>
<path d="M166.21,393.55L171.51,403.45L160.91,403.45Z" fill="#f08c2c"/>
<path d="M177.93,384.27L183.23,394.17L172.63,394.17Z" fill="#f08c2c"/>
<path d="M189.64,376.37L194.94,386.27L184.34,386.27Z" fill="#f08c2c"/>
<path d="M201.36,368.94L206.66,378.84L196.06,378.84Z" fill="#f08c2c"/>
<path d="M213.07,361.98L218.37,371.88L207.77,371.88Z" fill="#f08c2c"/>
<path d="M224.79,355.48L230.09,365.38L219.49,365.38Z" fill="#f08c2c"/>
<path d="M236.51,349.91L241.81,359.81L231.21,359.81Z" fill="#f08c2c"/>
<path d="M248.22,344.80L253.52,354.70L242.92,354.70Z" fill="#f08c2c"/>
<path d="M259.94,340.63L265.24,350.53L254.64,350.53Z" fill="#f08c2c"/>
<path d="M271.65,337.38L276.95,347.28L266.35,347.28Z" fill="#f08c2c"/>
<path d="M283.37,334.59L288.67,344.49L278.07,344.49Z" fill="#f08c2c"/>
<path d="M295.08,332.27L300.38,342.17L289.78,342.17Z" fill="#f08c2c"/>
<path d="M306.80,330.41L312.10,340.31L301.50,340.31Z" fill="#f08c2c"/>
<path d="M318.51,331.34L323.81,341.24L313.21,341.24Z" fill="#f08c2c"/>
<polyline points="95.92,454.60 107.64,443.45 119.35,431.38 131.07,417.92 142.78,405.85 154.50,393.78 166.21,384.49 177.93,374.74 189.64,366.39 201.36,359.19 213.07,352.69 224.79,348.28 236.51,342.25 248.22,337.60 259.94,332.50 271.65,328.32 283.37,325.53 295.08,322.75 306.80,320.43 318.51,319.50" fill="none" stroke="#1414f5" stroke-width="1.8"/>
<path d="M95.92,449.30L101.62,454.60L95.92,459.90L90.22,454.60Z" fill="#1414f5"/>
<path d="M107.64,438.15L113.34,443.45L107.64,448.75L101.94,443.45Z" fill="#1414f5"/>
<path d="M119.35,426.08L125.05,431.38L119.35,436.68L113.65,431.38Z" fill="#1414f5"/>
<path d="M131.07,412.62L136.77,417.92L131.07,423.22L125.37,417.92Z" fill="#1414f5"/>
<path d="M142.78,400.55L148.48,405.85L142.78,411.15L137.08,405.85Z" fill="#1414f5"/>
<path d="M154.50,388.48L160.20,393.78L154.50,399.08L148.80,393.78Z" fill="#1414f5"/>
<path d="M166.21,379.19L171.91,384.49L166.21,389.79L160.51,384.49Z" fill="#1414f5"/>
<path d="M177.93,369.44L183.63,374.74L177.93,380.04L172.23,374.74Z" fill="#1414f5"/>
<path d="M189.64,361.09L195.34,366.39L189.64,371.69L183.94,366.39Z" fill="#1414f5"/>
<path d="M201.36,353.89L207.06,359.19L201.36,364.49L195.66,359.19Z" fill="#1414f5"/>
<path d="M213.07,347.39L218.77,352.69L213.07,357.99L207.37,352.69Z" fill="#1414f5"/>
<path d="M224.79,342.98L230.49,348.28L224.79,353.58L219.09,348.28Z" fill="#1414f5"/>
<path d="M236.51,336.95L242.21,342.25L236.51,347.55L230.81,342.25Z" fill="#1414f5"/>
<path d="M248.22,332.30L253.92,337.60L248.22,342.90L242.52,337.60Z" fill="#1414f5"/>
<path d="M259.94,327.20L265.64,332.50L259.94,337.80L254.24,332.50Z" fill="#1414f5"/>
<path d="M271.65,323.02L277.35,328.32L271.65,333.62L265.95,328.32Z" fill="#1414f5"/>
<path d="M283.37,320.23L289.07,325.53L283.37,330.83L277.67,325.53Z" fill="#1414f5"/>
<path d="M295.08,317.45L300.78,322.75L295.08,328.05L289.38,322.75Z" fill="#1414f5"/>
<path d="M306.80,315.13L312.50,320.43L306.80,325.73L301.10,320.43Z" fill="#1414f5"/>
<path d="M318.51,314.20L324.21,319.50L318.51,324.80L312.81,319.50Z" fill="#1414f5"/>
<polyline points="95.92,449.49 107.64,438.35 119.35,422.56 131.07,409.10 142.78,397.03 154.50,384.03 166.21,373.35 177.93,364.07 189.64,355.25 201.36,347.82 213.07,340.85 224.79,334.35 236.51,329.71 248.22,324.61 259.94,320.43 271.65,315.78 283.37,312.53 295.08,309.28 306.80,306.03 318.51,306.03" fill="none" stroke="#f53c96" stroke-width="1.8"/>
<circle cx="95.92" cy="449.49" r="4.6" fill="#f53c96"/>
<circle cx="107.64" cy="438.35" r="4.6" fill="#f53c96"/>
<circle cx="119.35" cy="422.56" r="4.6" fill="#f53c96"/>
<circle cx="131.07" cy="409.10" r="4.6" fill="#f53c96"/>
<circle cx="142.78" cy="397.03" r="4.6" fill="#f53c96"/>
<circle cx="154.50" cy="384.03" r="4.6" fill="#f53c96"/>
<circle cx="166.21" cy="373.35" r="4.6" fill="#f53c96"/>
<circle cx="177.93" cy="364.07" r="4.6" fill="#f53c96"/>
<circle cx="189.64" cy="355.25" r="4.6" fill="#f53c96"/>
<circle cx="201.36" cy="347.82" r="4.6" fill="#f53c96"/>
<circle cx="213.07" cy="340.85" r="4.6" fill="#f53c96"/>
<circle cx="224.79" cy="334.35" r="4.6" fill="#f53c96"/>
<circle cx="236.51" cy="329.71" r="4.6" fill="#f53c96"/>
<circle cx="248.22" cy="324.61" r="4.6" fill="#f53c96"/>
<circle cx="259.94" cy="320.43" r="4.6" fill="#f53c96"/>
<circle cx="271.65" cy="315.78" r="4.6" fill="#f53c96"/>
<circle cx="283.37" cy="312.53" r="4.6" fill="#f53c96"/>
<circle cx="295.08" cy="309.28" r="4.6" fill="#f53c96"/>
<circle cx="306.80" cy="306.03" r="4.6" fill="#f53c96"/>
<circle cx="318.51" cy="306.03" r="4.6" fill="#f53c96"/>
<polyline points="95.92,457.61 107.64,446.70 119.35,439.28 131.07,427.67 142.78,416.99 154.50,406.78 166.21,397.96 177.93,388.67 189.64,380.78 201.36,373.12 213.07,365.92 224.79,358.96 236.51,352.92 248.22,347.82 259.94,342.25 271.65,339.00 283.37,334.35 295.08,330.64 306.80,326.93 318.51,324.14" fill="none" stroke="#2e8c22" stroke-width="1.8"/>
<path d="M95.92,452.71L90.88,456.38L92.81,462.30L99.04,462.30L100.96,456.38Z" fill="#2e8c22"/>
<path d="M107.64,441.80L102.60,445.47L104.52,451.39L110.75,451.39L112.68,445.47Z" fill="#2e8c22"/>
<path d="M119.35,434.38L114.31,438.04L116.24,443.96L122.47,443.96L124.39,438.04Z" fill="#2e8c22"/>
<path d="M131.07,422.77L126.03,426.43L127.95,432.36L134.18,432.36L136.11,426.43Z" fill="#2e8c22"/>
<path d="M142.78,412.09L137.74,415.75L139.67,421.68L145.90,421.68L147.82,415.75Z" fill="#2e8c22"/>
<path d="M154.50,401.88L149.46,405.54L151.38,411.47L157.61,411.47L159.54,405.54Z" fill="#2e8c22"/>
<path d="M166.21,393.06L161.17,396.72L163.10,402.65L169.33,402.65L171.25,396.72Z" fill="#2e8c22"/>
<path d="M177.93,383.77L172.89,387.43L174.81,393.36L181.04,393.36L182.97,387.43Z" fill="#2e8c22"/>
<path d="M189.64,375.88L184.60,379.54L186.53,385.47L192.76,385.47L194.69,379.54Z" fill="#2e8c22"/>
<path d="M201.36,368.22L196.32,371.88L198.24,377.81L204.47,377.81L206.40,371.88Z" fill="#2e8c22"/>
<path d="M213.07,361.02L208.03,364.69L209.96,370.61L216.19,370.61L218.12,364.69Z" fill="#2e8c22"/>
<path d="M224.79,354.06L219.75,357.72L221.67,363.65L227.91,363.65L229.83,357.72Z" fill="#2e8c22"/>
<path d="M236.51,348.02L231.46,351.69L233.39,357.61L239.62,357.61L241.55,351.69Z" fill="#2e8c22"/>
<path d="M248.22,342.92L243.18,346.58L245.11,352.51L251.34,352.51L253.26,346.58Z" fill="#2e8c22"/>
<path d="M259.94,337.35L254.90,341.01L256.82,346.93L263.05,346.93L264.98,341.01Z" fill="#2e8c22"/>
<path d="M271.65,334.10L266.61,337.76L268.54,343.68L274.77,343.68L276.69,337.76Z" fill="#2e8c22"/>
<path d="M283.37,329.45L278.33,333.12L280.25,339.04L286.48,339.04L288.41,333.12Z" fill="#2e8c22"/>
<path d="M295.08,325.74L290.04,329.40L291.97,335.33L298.20,335.33L300.12,329.40Z" fill="#2e8c22"/>
<path d="M306.80,322.03L301.76,325.69L303.68,331.61L309.91,331.61L311.84,325.69Z" fill="#2e8c22"/>
<path d="M318.51,319.24L313.47,322.90L315.40,328.83L321.63,328.83L323.55,322.90Z" fill="#2e8c22"/>
<polyline points="95.92,467.83 107.64,459.70 119.35,451.35 131.07,443.45 142.78,434.17 154.50,425.35 166.21,416.53 177.93,407.71 189.64,399.81 201.36,391.92 213.07,383.57 224.79,375.67 236.51,368.71 248.22,361.28 259.94,355.25 271.65,349.21 283.37,344.10 295.08,339.46 306.80,335.28 318.51,332.50" fill="none" stroke="#aaa032" stroke-width="1.8"/>
<path d="M100.72,467.83L91.72,462.83L91.72,472.83Z" fill="#aaa032"/>
<path d="M112.44,459.70L103.44,454.70L103.44,464.70Z" fill="#aaa032"/>
<path d="M124.15,451.35L115.15,446.35L115.15,456.35Z" fill="#aaa032"/>
<path d="M135.87,443.45L126.87,438.45L126.87,448.45Z" fill="#aaa032"/>
<path d="M147.58,434.17L138.58,429.17L138.58,439.17Z" fill="#aaa032"/>
<path d="M159.30,425.35L150.30,420.35L150.30,430.35Z" fill="#aaa032"/>
<path d="M171.01,416.53L162.01,411.53L162.01,421.53Z" fill="#aaa032"/>
<path d="M182.73,407.71L173.73,402.71L173.73,412.71Z" fill="#aaa032"/>
<path d="M194.44,399.81L185.44,394.81L185.44,404.81Z" fill="#aaa032"/>
<path d="M206.16,391.92L197.16,386.92L197.16,396.92Z" fill="#aaa032"/>
<path d="M217.87,383.57L208.87,378.57L208.87,388.57Z" fill="#aaa032"/>
<path d="M229.59,375.67L220.59,370.67L220.59,380.67Z" fill="#aaa032"/>
<path d="M241.31,368.71L232.31,363.71L232.31,373.71Z" fill="#aaa032"/>
<path d="M253.02,361.28L244.02,356.28L244.02,366.28Z" fill="#aaa032"/>
<path d="M264.74,355.25L255.74,350.25L255.74,360.25Z" fill="#aaa032"/>
<path d="M276.45,349.21L267.45,344.21L267.45,354.21Z" fill="#aaa032"/>
<path d="M288.17,344.10L279.17,339.10L279.17,349.10Z" fill="#aaa032"/>
<path d="M299.88,339.46L290.88,334.46L290.88,344.46Z" fill="#aaa032"/>
<path d="M311.60,335.28L302.60,330.28L302.60,340.28Z" fill="#aaa032"/>
<path d="M323.31,332.50L314.31,327.50L314.31,337.50Z" fill="#aaa032"/>
<path d="M95.92,444.03V454.95M93.32,444.03h5.2M93.32,454.95h5.2M107.64,432.44V444.25M105.04,432.44h5.2M105.04,444.25h5.2M119.35,416.03V429.10M116.75,416.03h5.2M116.75,429.10h5.2M131.07,402.02V416.17M128.47,402.02h5.2M128.47,416.17h5.2M142.78,389.47V404.59M140.18,389.47h5.2M140.18,404.59h5.2M154.50,375.95V392.11M151.90,375.95h5.2M151.90,392.11h5.2M166.21,364.85V381.86M163.61,364.85h5.2M163.61,381.86h5.2M177.93,355.19V372.94M175.33,355.19h5.2M175.33,372.94h5.2M189.64,346.02V364.48M187.04,346.02h5.2M187.04,364.48h5.2M201.36,338.29V357.34M198.76,338.29h5.2M198.76,357.34h5.2M213.07,331.05V350.66M210.47,331.05h5.2M210.47,350.66h5.2M224.79,324.29V344.42M222.19,324.29h5.2M222.19,344.42h5.2M236.51,319.46V339.96M233.91,319.46h5.2M233.91,339.96h5.2M248.22,314.15V335.06M245.62,314.15h5.2M245.62,335.06h5.2M259.94,309.80V331.05M257.34,309.80h5.2M257.34,331.05h5.2M271.65,304.98V326.59M269.05,304.98h5.2M269.05,326.59h5.2M283.37,301.60V323.47M280.77,301.60h5.2M280.77,323.47h5.2M295.08,298.22V320.35M292.48,298.22h5.2M292.48,320.35h5.2M306.80,294.84V317.23M304.20,294.84h5.2M304.20,317.23h5.2M318.51,294.84V317.23M315.91,294.84h5.2M315.91,317.23h5.2" stroke="#f53c96" stroke-width="1.5" fill="none"/>
</g>
<rect x="76.5" y="293.5" width="252.50" height="218.20" fill="none" stroke="#000" stroke-width="2.7"/>
<text x="95.92" y="527.70" class="tl" text-anchor="middle">300</text>
<text x="134.77" y="527.70" class="tl" text-anchor="middle">400</text>
<text x="173.62" y="527.70" class="tl" text-anchor="middle">500</text>
<text x="212.46" y="527.70" class="tl" text-anchor="middle">600</text>
<text x="251.31" y="527.70" class="tl" text-anchor="middle">700</text>
<text x="290.15" y="527.70" class="tl" text-anchor="middle">800</text>
<text x="329.00" y="527.70" class="tl" text-anchor="middle">900</text>
<text x="71.30" y="496.83" class="tl" text-anchor="end">20</text>
<text x="71.30" y="473.62" class="tl" text-anchor="end">25</text>
<text x="71.30" y="450.40" class="tl" text-anchor="end">30</text>
<text x="71.30" y="427.19" class="tl" text-anchor="end">35</text>
<text x="71.30" y="403.98" class="tl" text-anchor="end">40</text>
<text x="71.30" y="380.77" class="tl" text-anchor="end">45</text>
<text x="71.30" y="357.55" class="tl" text-anchor="end">50</text>
<text x="71.30" y="334.34" class="tl" text-anchor="end">55</text>
<text x="71.30" y="311.13" class="tl" text-anchor="end">60</text>
<rect x="417" y="293.4" width="253.40" height="218.20" fill="url(#bgd)"/>
<clipPath id="cd"><rect x="418.2" y="294.59999999999997" width="251.00" height="215.80"/></clipPath>
<path d="M436.49,511.6v-3.9M475.48,511.6v-3.9M514.46,511.6v-3.9M553.45,511.6v-3.9M592.43,511.6v-3.9M631.42,511.6v-3.9M670.40,511.6v-3.9M455.98,511.6v-2.4M494.97,511.6v-2.4M533.95,511.6v-2.4M572.94,511.6v-2.4M611.92,511.6v-2.4M650.91,511.6v-2.4M417,487.36h4.0M670.4,487.36h-4.0M417,457.05h2.5M670.4,457.05h-2.5M417,426.74h4.0M670.4,426.74h-4.0M417,396.44h2.5M670.4,396.44h-2.5M417,366.13h4.0M670.4,366.13h-4.0M417,335.83h2.5M670.4,335.83h-2.5M417,305.52h4.0M670.4,305.52h-4.0" stroke="#000" stroke-width="2.2" fill="none"/>
<g clip-path="url(#cd)">
<polyline points="436.49,316.80 448.25,334.74 460.01,351.95 471.76,368.19 483.52,382.98 495.28,396.44 507.03,407.95 518.79,419.96 530.55,428.93 542.30,437.65 554.06,445.78 565.82,451.59 577.58,457.17 589.33,460.08 601.09,462.75 612.85,463.47 624.60,460.08 636.36,457.17 648.12,451.23 659.87,444.93" fill="none" stroke="#8c1414" stroke-width="1.8"/>
<rect x="432.49" y="312.80" width="8.00" height="8.00" fill="#8c1414"/>
<rect x="444.25" y="330.74" width="8.00" height="8.00" fill="#8c1414"/>
<rect x="456.01" y="347.95" width="8.00" height="8.00" fill="#8c1414"/>
<rect x="467.76" y="364.19" width="8.00" height="8.00" fill="#8c1414"/>
<rect x="479.52" y="378.98" width="8.00" height="8.00" fill="#8c1414"/>
<rect x="491.28" y="392.44" width="8.00" height="8.00" fill="#8c1414"/>
<rect x="503.03" y="403.95" width="8.00" height="8.00" fill="#8c1414"/>
<rect x="514.79" y="415.96" width="8.00" height="8.00" fill="#8c1414"/>
<rect x="526.55" y="424.93" width="8.00" height="8.00" fill="#8c1414"/>
<rect x="538.30" y="433.65" width="8.00" height="8.00" fill="#8c1414"/>
<rect x="550.06" y="441.78" width="8.00" height="8.00" fill="#8c1414"/>
<rect x="561.82" y="447.59" width="8.00" height="8.00" fill="#8c1414"/>
<rect x="573.58" y="453.17" width="8.00" height="8.00" fill="#8c1414"/>
<rect x="585.33" y="456.08" width="8.00" height="8.00" fill="#8c1414"/>
<rect x="597.09" y="458.75" width="8.00" height="8.00" fill="#8c1414"/>
<rect x="608.85" y="459.47" width="8.00" height="8.00" fill="#8c1414"/>
<rect x="620.60" y="456.08" width="8.00" height="8.00" fill="#8c1414"/>
<rect x="632.36" y="453.17" width="8.00" height="8.00" fill="#8c1414"/>
<rect x="644.12" y="447.23" width="8.00" height="8.00" fill="#8c1414"/>
<rect x="655.87" y="440.93" width="8.00" height="8.00" fill="#8c1414"/>
<polyline points="436.49,346.25 448.25,363.83 460.01,379.71 471.76,393.77 483.52,406.74 495.28,419.47 507.03,430.38 518.79,440.08 530.55,448.56 542.30,455.84 554.06,460.69 565.82,464.93 577.58,468.93 589.33,471.84 601.09,473.29 612.85,473.29 624.60,470.99 636.36,466.02 648.12,457.17 659.87,452.20" fill="none" stroke="#f08c2c" stroke-width="1.8"/>
<path d="M436.49,340.45L441.79,350.35L431.19,350.35Z" fill="#f08c2c"/>
<path d="M448.25,358.03L453.55,367.93L442.95,367.93Z" fill="#f08c2c"/>
<path d="M460.01,373.91L465.31,383.81L454.71,383.81Z" fill="#f08c2c"/>
<path d="M471.76,387.97L477.06,397.87L466.46,397.87Z" fill="#f08c2c"/>
<path d="M483.52,400.94L488.82,410.84L478.22,410.84Z" fill="#f08c2c"/>
<path d="M495.28,413.67L500.58,423.57L489.98,423.57Z" fill="#f08c2c"/>
<path d="M507.03,424.58L512.33,434.48L501.73,434.48Z" fill="#f08c2c"/>
<path d="M518.79,434.28L524.09,444.18L513.49,444.18Z" fill="#f08c2c"/>
<path d="M530.55,442.76L535.85,452.66L525.25,452.66Z" fill="#f08c2c"/>
<path d="M542.30,450.04L547.60,459.94L537.00,459.94Z" fill="#f08c2c"/>
<path d="M554.06,454.89L559.36,464.79L548.76,464.79Z" fill="#f08c2c"/>
<path d="M565.82,459.13L571.12,469.03L560.52,469.03Z" fill="#f08c2c"/>
<path d="M577.58,463.13L582.88,473.03L572.28,473.03Z" fill="#f08c2c"/>
<path d="M589.33,466.04L594.63,475.94L584.03,475.94Z" fill="#f08c2c"/>
<path d="M601.09,467.49L606.39,477.39L595.79,477.39Z" fill="#f08c2c"/>
<path d="M612.85,467.49L618.15,477.39L607.55,477.39Z" fill="#f08c2c"/>
<path d="M624.60,465.19L629.90,475.09L619.30,475.09Z" fill="#f08c2c"/>
<path d="M636.36,460.22L641.66,470.12L631.06,470.12Z" fill="#f08c2c"/>
<path d="M648.12,451.37L653.42,461.27L642.82,461.27Z" fill="#f08c2c"/>
<path d="M659.87,446.40L665.17,456.30L654.57,456.30Z" fill="#f08c2c"/>
<polyline points="436.49,356.56 448.25,371.95 460.01,386.13 471.76,398.98 483.52,411.83 495.28,422.02 507.03,432.32 518.79,440.81 530.55,448.20 542.30,453.66 554.06,458.99 565.82,463.11 577.58,466.02 589.33,467.96 601.09,468.93 612.85,468.93 624.60,467.96 636.36,466.02 648.12,462.75 659.87,458.75" fill="none" stroke="#1414f5" stroke-width="1.8"/>
<path d="M436.49,351.26L442.19,356.56L436.49,361.86L430.79,356.56Z" fill="#1414f5"/>
<path d="M448.25,366.65L453.95,371.95L448.25,377.25L442.55,371.95Z" fill="#1414f5"/>
<path d="M460.01,380.83L465.71,386.13L460.01,391.44L454.31,386.13Z" fill="#1414f5"/>
<path d="M471.76,393.68L477.46,398.98L471.76,404.28L466.06,398.98Z" fill="#1414f5"/>
<path d="M483.52,406.53L489.22,411.83L483.52,417.13L477.82,411.83Z" fill="#1414f5"/>
<path d="M495.28,416.72L500.98,422.02L495.28,427.32L489.58,422.02Z" fill="#1414f5"/>
<path d="M507.03,427.02L512.73,432.32L507.03,437.62L501.33,432.32Z" fill="#1414f5"/>
<path d="M518.79,435.51L524.49,440.81L518.79,446.11L513.09,440.81Z" fill="#1414f5"/>
<path d="M530.55,442.90L536.25,448.20L530.55,453.50L524.85,448.20Z" fill="#1414f5"/>
<path d="M542.30,448.36L548.00,453.66L542.30,458.96L536.60,453.66Z" fill="#1414f5"/>
<path d="M554.06,453.69L559.76,458.99L554.06,464.29L548.36,458.99Z" fill="#1414f5"/>
<path d="M565.82,457.81L571.52,463.11L565.82,468.41L560.12,463.11Z" fill="#1414f5"/>
<path d="M577.58,460.72L583.28,466.02L577.58,471.32L571.88,466.02Z" fill="#1414f5"/>
<path d="M589.33,462.66L595.03,467.96L589.33,473.26L583.63,467.96Z" fill="#1414f5"/>
<path d="M601.09,463.63L606.79,468.93L601.09,474.23L595.39,468.93Z" fill="#1414f5"/>
<path d="M612.85,463.63L618.55,468.93L612.85,474.23L607.15,468.93Z" fill="#1414f5"/>
<path d="M624.60,462.66L630.30,467.96L624.60,473.26L618.90,467.96Z" fill="#1414f5"/>
<path d="M636.36,460.72L642.06,466.02L636.36,471.32L630.66,466.02Z" fill="#1414f5"/>
<path d="M648.12,457.45L653.82,462.75L648.12,468.05L642.42,462.75Z" fill="#1414f5"/>
<path d="M659.87,453.45L665.57,458.75L659.87,464.05L654.17,458.75Z" fill="#1414f5"/>
<polyline points="436.49,375.10 448.25,390.01 460.01,404.08 471.76,415.59 483.52,427.71 495.28,438.14 507.03,447.72 518.79,455.35 530.55,463.11 542.30,468.81 554.06,472.93 565.82,475.84 577.58,478.39 589.33,479.84 601.09,480.81 612.85,480.81 624.60,479.84 636.36,478.39 648.12,476.93 659.87,474.51" fill="none" stroke="#f53c96" stroke-width="1.8"/>
<circle cx="436.49" cy="375.10" r="4.6" fill="#f53c96"/>
<circle cx="448.25" cy="390.01" r="4.6" fill="#f53c96"/>
<circle cx="460.01" cy="404.08" r="4.6" fill="#f53c96"/>
<circle cx="471.76" cy="415.59" r="4.6" fill="#f53c96"/>
<circle cx="483.52" cy="427.71" r="4.6" fill="#f53c96"/>
<circle cx="495.28" cy="438.14" r="4.6" fill="#f53c96"/>
<circle cx="507.03" cy="447.72" r="4.6" fill="#f53c96"/>
<circle cx="518.79" cy="455.35" r="4.6" fill="#f53c96"/>
<circle cx="530.55" cy="463.11" r="4.6" fill="#f53c96"/>
<circle cx="542.30" cy="468.81" r="4.6" fill="#f53c96"/>
<circle cx="554.06" cy="472.93" r="4.6" fill="#f53c96"/>
<circle cx="565.82" cy="475.84" r="4.6" fill="#f53c96"/>
<circle cx="577.58" cy="478.39" r="4.6" fill="#f53c96"/>
<circle cx="589.33" cy="479.84" r="4.6" fill="#f53c96"/>
<circle cx="601.09" cy="480.81" r="4.6" fill="#f53c96"/>
<circle cx="612.85" cy="480.81" r="4.6" fill="#f53c96"/>
<circle cx="624.60" cy="479.84" r="4.6" fill="#f53c96"/>
<circle cx="636.36" cy="478.39" r="4.6" fill="#f53c96"/>
<circle cx="648.12" cy="476.93" r="4.6" fill="#f53c96"/>
<circle cx="659.87" cy="474.51" r="4.6" fill="#f53c96"/>
<polyline points="436.49,383.59 448.25,397.65 460.01,411.83 471.76,423.23 483.52,434.87 495.28,445.17 507.03,454.14 518.79,461.78 530.55,469.54 542.30,475.23 554.06,480.32 565.82,483.72 577.58,485.78 589.33,486.75 601.09,486.75 612.85,486.75 624.60,485.78 636.36,484.32 648.12,482.39 659.87,480.32" fill="none" stroke="#2e8c22" stroke-width="1.8"/>
<path d="M436.49,378.69L431.45,382.35L433.38,388.28L439.61,388.28L441.53,382.35Z" fill="#2e8c22"/>
<path d="M448.25,392.75L443.21,396.41L445.13,402.34L451.36,402.34L453.29,396.41Z" fill="#2e8c22"/>
<path d="M460.01,406.93L454.97,410.60L456.89,416.52L463.12,416.52L465.05,410.60Z" fill="#2e8c22"/>
<path d="M471.76,418.33L466.72,421.99L468.65,427.92L474.88,427.92L476.80,421.99Z" fill="#2e8c22"/>
<path d="M483.52,429.97L478.48,433.63L480.40,439.55L486.64,439.55L488.56,433.63Z" fill="#2e8c22"/>
<path d="M495.28,440.27L490.24,443.93L492.16,449.86L498.39,449.86L500.32,443.93Z" fill="#2e8c22"/>
<path d="M507.03,449.24L501.99,452.90L503.92,458.83L510.15,458.83L512.07,452.90Z" fill="#2e8c22"/>
<path d="M518.79,456.88L513.75,460.54L515.68,466.47L521.91,466.47L523.83,460.54Z" fill="#2e8c22"/>
<path d="M530.55,464.64L525.51,468.30L527.43,474.22L533.66,474.22L535.59,468.30Z" fill="#2e8c22"/>
<path d="M542.30,470.33L537.26,474.00L539.19,479.92L545.42,479.92L547.35,474.00Z" fill="#2e8c22"/>
<path d="M554.06,475.42L549.02,479.09L550.95,485.01L557.18,485.01L559.10,479.09Z" fill="#2e8c22"/>
<path d="M565.82,478.82L560.78,482.48L562.70,488.41L568.93,488.41L570.86,482.48Z" fill="#2e8c22"/>
<path d="M577.58,480.88L572.53,484.54L574.46,490.47L580.69,490.47L582.62,484.54Z" fill="#2e8c22"/>
<path d="M589.33,481.85L584.29,485.51L586.22,491.44L592.45,491.44L594.37,485.51Z" fill="#2e8c22"/>
<path d="M601.09,481.85L596.05,485.51L597.97,491.44L604.20,491.44L606.13,485.51Z" fill="#2e8c22"/>
<path d="M612.85,481.85L607.81,485.51L609.73,491.44L615.96,491.44L617.89,485.51Z" fill="#2e8c22"/>
<path d="M624.60,480.88L619.56,484.54L621.49,490.47L627.72,490.47L629.64,484.54Z" fill="#2e8c22"/>
<path d="M636.36,479.42L631.32,483.09L633.25,489.01L639.48,489.01L641.40,483.09Z" fill="#2e8c22"/>
<path d="M648.12,477.49L643.08,481.15L645.00,487.07L651.23,487.07L653.16,481.15Z" fill="#2e8c22"/>
<path d="M659.87,475.42L654.83,479.09L656.76,485.01L662.99,485.01L664.91,479.09Z" fill="#2e8c22"/>
<polyline points="436.49,391.95 448.25,407.83 460.01,422.02 471.76,435.71 483.52,448.56 495.28,459.35 507.03,469.54 518.79,477.66 530.55,484.93 542.30,490.99 554.06,496.33 565.82,500.45 577.58,502.87 589.33,504.45 601.09,504.45 612.85,503.48 624.60,501.54 636.36,498.51 648.12,494.63 659.87,490.75" fill="none" stroke="#aaa032" stroke-width="1.8"/>
<path d="M441.29,391.95L432.29,386.95L432.29,396.95Z" fill="#aaa032"/>
<path d="M453.05,407.83L444.05,402.83L444.05,412.83Z" fill="#aaa032"/>
<path d="M464.81,422.02L455.81,417.02L455.81,427.02Z" fill="#aaa032"/>
<path d="M476.56,435.71L467.56,430.71L467.56,440.71Z" fill="#aaa032"/>
<path d="M488.32,448.56L479.32,443.56L479.32,453.56Z" fill="#aaa032"/>
<path d="M500.08,459.35L491.08,454.35L491.08,464.35Z" fill="#aaa032"/>
<path d="M511.83,469.54L502.83,464.54L502.83,474.54Z" fill="#aaa032"/>
<path d="M523.59,477.66L514.59,472.66L514.59,482.66Z" fill="#aaa032"/>
<path d="M535.35,484.93L526.35,479.93L526.35,489.93Z" fill="#aaa032"/>
<path d="M547.10,490.99L538.10,485.99L538.10,495.99Z" fill="#aaa032"/>
<path d="M558.86,496.33L549.86,491.33L549.86,501.33Z" fill="#aaa032"/>
<path d="M570.62,500.45L561.62,495.45L561.62,505.45Z" fill="#aaa032"/>
<path d="M582.38,502.87L573.38,497.87L573.38,507.87Z" fill="#aaa032"/>
<path d="M594.13,504.45L585.13,499.45L585.13,509.45Z" fill="#aaa032"/>
<path d="M605.89,504.45L596.89,499.45L596.89,509.45Z" fill="#aaa032"/>
<path d="M617.65,503.48L608.65,498.48L608.65,508.48Z" fill="#aaa032"/>
<path d="M629.40,501.54L620.40,496.54L620.40,506.54Z" fill="#aaa032"/>
<path d="M641.16,498.51L632.16,493.51L632.16,503.51Z" fill="#aaa032"/>
<path d="M652.92,494.63L643.92,489.63L643.92,499.63Z" fill="#aaa032"/>
<path d="M664.67,490.75L655.67,485.75L655.67,495.75Z" fill="#aaa032"/>
<path d="M436.49,363.16V387.05M433.89,363.16h5.2M433.89,387.05h5.2M448.25,378.37V401.66M445.65,378.37h5.2M445.65,401.66h5.2M460.01,392.71V415.44M457.41,392.71h5.2M457.41,415.44h5.2M471.76,404.46V426.73M469.16,404.46h5.2M469.16,426.73h5.2M483.52,416.82V438.60M480.92,416.82h5.2M480.92,438.60h5.2M495.28,427.46V448.82M492.68,427.46h5.2M492.68,448.82h5.2M507.03,437.23V458.21M504.43,437.23h5.2M504.43,458.21h5.2M518.79,445.02V465.69M516.19,445.02h5.2M516.19,465.69h5.2M530.55,452.93V473.29M527.95,452.93h5.2M527.95,473.29h5.2M542.30,458.74V478.88M539.70,458.74h5.2M539.70,478.88h5.2M554.06,462.94V482.92M551.46,462.94h5.2M551.46,482.92h5.2M565.82,465.91V485.77M563.22,465.91h5.2M563.22,485.77h5.2M577.58,468.51V488.26M574.98,468.51h5.2M574.98,488.26h5.2M589.33,469.99V489.69M586.73,469.99h5.2M586.73,489.69h5.2M601.09,470.98V490.64M598.49,470.98h5.2M598.49,490.64h5.2M612.85,470.98V490.64M610.25,470.98h5.2M610.25,490.64h5.2M624.60,469.99V489.69M622.00,469.99h5.2M622.00,489.69h5.2M636.36,468.51V488.26M633.76,468.51h5.2M633.76,488.26h5.2M648.12,467.02V486.84M645.52,467.02h5.2M645.52,486.84h5.2M659.87,464.55V484.46M657.27,464.55h5.2M657.27,484.46h5.2" stroke="#f53c96" stroke-width="1.5" fill="none"/>
</g>
<rect x="417" y="293.4" width="253.40" height="218.20" fill="none" stroke="#000" stroke-width="2.7"/>
<text x="436.49" y="527.60" class="tl" text-anchor="middle">300</text>
<text x="475.48" y="527.60" class="tl" text-anchor="middle">400</text>
<text x="514.46" y="527.60" class="tl" text-anchor="middle">500</text>
<text x="553.45" y="527.60" class="tl" text-anchor="middle">600</text>
<text x="592.43" y="527.60" class="tl" text-anchor="middle">700</text>
<text x="631.42" y="527.60" class="tl" text-anchor="middle">800</text>
<text x="670.40" y="527.60" class="tl" text-anchor="middle">900</text>
<text x="411.80" y="491.06" class="tl" text-anchor="end">4.0</text>
<text x="411.80" y="430.44" class="tl" text-anchor="end">4.5</text>
<text x="411.80" y="369.83" class="tl" text-anchor="end">5.0</text>
<text x="411.80" y="309.22" class="tl" text-anchor="end">5.5</text>
<rect x="76.5" y="569.8" width="253.90" height="218.80" fill="url(#bge)"/>
<clipPath id="ce"><rect x="77.7" y="571.0" width="251.50" height="216.40"/></clipPath>
<path d="M96.03,788.6v-3.9M135.09,788.6v-3.9M174.15,788.6v-3.9M213.22,788.6v-3.9M252.28,788.6v-3.9M291.34,788.6v-3.9M330.40,788.6v-3.9M115.56,788.6v-2.4M154.62,788.6v-2.4M193.68,788.6v-2.4M232.75,788.6v-2.4M271.81,788.6v-2.4M310.87,788.6v-2.4M76.5,788.60h4.0M330.4,788.60h-4.0M76.5,776.44h2.5M330.4,776.44h-2.5M76.5,764.29h4.0M330.4,764.29h-4.0M76.5,752.13h2.5M330.4,752.13h-2.5M76.5,739.98h4.0M330.4,739.98h-4.0M76.5,727.82h2.5M330.4,727.82h-2.5M76.5,715.67h4.0M330.4,715.67h-4.0M76.5,703.51h2.5M330.4,703.51h-2.5M76.5,691.36h4.0M330.4,691.36h-4.0M76.5,679.20h2.5M330.4,679.20h-2.5M76.5,667.04h4.0M330.4,667.04h-4.0M76.5,654.89h2.5M330.4,654.89h-2.5M76.5,642.73h4.0M330.4,642.73h-4.0M76.5,630.58h2.5M330.4,630.58h-2.5M76.5,618.42h4.0M330.4,618.42h-4.0M76.5,606.27h2.5M330.4,606.27h-2.5M76.5,594.11h4.0M330.4,594.11h-4.0M76.5,581.96h2.5M330.4,581.96h-2.5M76.5,569.80h4.0M330.4,569.80h-4.0" stroke="#000" stroke-width="2.2" fill="none"/>
<g clip-path="url(#ce)">
<polyline points="96.03,585.85 107.81,596.15 119.59,606.17 131.37,615.65 143.15,625.18 154.93,633.69 166.71,641.27 178.49,648.86 190.27,656.10 202.05,663.15 213.83,669.23 225.61,675.50 237.39,681.39 249.17,686.40 260.95,691.36 272.73,695.25 284.51,699.23 296.29,702.15 308.07,705.12 319.85,707.16" fill="none" stroke="#8c1414" stroke-width="1.8"/>
<rect x="92.03" y="581.85" width="8.00" height="8.00" fill="#8c1414"/>
<rect x="103.81" y="592.15" width="8.00" height="8.00" fill="#8c1414"/>
<rect x="115.59" y="602.17" width="8.00" height="8.00" fill="#8c1414"/>
<rect x="127.37" y="611.65" width="8.00" height="8.00" fill="#8c1414"/>
<rect x="139.15" y="621.18" width="8.00" height="8.00" fill="#8c1414"/>
<rect x="150.93" y="629.69" width="8.00" height="8.00" fill="#8c1414"/>
<rect x="162.71" y="637.27" width="8.00" height="8.00" fill="#8c1414"/>
<rect x="174.49" y="644.86" width="8.00" height="8.00" fill="#8c1414"/>
<rect x="186.27" y="652.10" width="8.00" height="8.00" fill="#8c1414"/>
<rect x="198.05" y="659.15" width="8.00" height="8.00" fill="#8c1414"/>
<rect x="209.83" y="665.23" width="8.00" height="8.00" fill="#8c1414"/>
<rect x="221.61" y="671.50" width="8.00" height="8.00" fill="#8c1414"/>
<rect x="233.39" y="677.39" width="8.00" height="8.00" fill="#8c1414"/>
<rect x="245.17" y="682.40" width="8.00" height="8.00" fill="#8c1414"/>
<rect x="256.95" y="687.36" width="8.00" height="8.00" fill="#8c1414"/>
<rect x="268.73" y="691.25" width="8.00" height="8.00" fill="#8c1414"/>
<rect x="280.51" y="695.23" width="8.00" height="8.00" fill="#8c1414"/>
<rect x="292.29" y="698.15" width="8.00" height="8.00" fill="#8c1414"/>
<rect x="304.07" y="701.12" width="8.00" height="8.00" fill="#8c1414"/>
<rect x="315.85" y="703.16" width="8.00" height="8.00" fill="#8c1414"/>
<polyline points="96.03,595.72 107.81,604.22 119.59,614.53 131.37,623.28 143.15,632.04 154.93,639.82 166.71,647.11 178.49,654.40 190.27,660.72 202.05,666.56 213.83,672.39 225.61,678.23 237.39,684.06 249.17,688.44 260.95,692.57 272.73,696.46 284.51,699.62 296.29,702.54 308.07,705.46 319.85,707.89" fill="none" stroke="#f08c2c" stroke-width="1.8"/>
<path d="M96.03,589.92L101.33,599.82L90.73,599.82Z" fill="#f08c2c"/>
<path d="M107.81,598.42L113.11,608.32L102.51,608.32Z" fill="#f08c2c"/>
<path d="M119.59,608.73L124.89,618.63L114.29,618.63Z" fill="#f08c2c"/>
<path d="M131.37,617.48L136.67,627.38L126.07,627.38Z" fill="#f08c2c"/>
<path d="M143.15,626.24L148.45,636.14L137.85,636.14Z" fill="#f08c2c"/>
<path d="M154.93,634.02L160.23,643.92L149.63,643.92Z" fill="#f08c2c"/>
<path d="M166.71,641.31L172.01,651.21L161.41,651.21Z" fill="#f08c2c"/>
<path d="M178.49,648.60L183.79,658.50L173.19,658.50Z" fill="#f08c2c"/>
<path d="M190.27,654.92L195.57,664.82L184.97,664.82Z" fill="#f08c2c"/>
<path d="M202.05,660.76L207.35,670.66L196.75,670.66Z" fill="#f08c2c"/>
<path d="M213.83,666.59L219.13,676.49L208.53,676.49Z" fill="#f08c2c"/>
<path d="M225.61,672.43L230.91,682.33L220.31,682.33Z" fill="#f08c2c"/>
<path d="M237.39,678.26L242.69,688.16L232.09,688.16Z" fill="#f08c2c"/>
<path d="M249.17,682.64L254.47,692.54L243.87,692.54Z" fill="#f08c2c"/>
<path d="M260.95,686.77L266.25,696.67L255.65,696.67Z" fill="#f08c2c"/>
<path d="M272.73,690.66L278.03,700.56L267.43,700.56Z" fill="#f08c2c"/>
<path d="M284.51,693.82L289.81,703.72L279.21,703.72Z" fill="#f08c2c"/>
<path d="M296.29,696.74L301.59,706.64L290.99,706.64Z" fill="#f08c2c"/>
<path d="M308.07,699.66L313.37,709.56L302.77,709.56Z" fill="#f08c2c"/>
<path d="M319.85,702.09L325.15,711.99L314.55,711.99Z" fill="#f08c2c"/>
<polyline points="96.03,599.56 107.81,609.04 119.59,618.18 131.37,626.49 143.15,635.25 154.93,642.25 166.71,649.30 178.49,656.10 190.27,662.18 202.05,667.87 213.83,673.37 225.61,679.49 237.39,684.99 249.17,689.31 260.95,693.30 272.73,697.24 284.51,700.20 296.29,703.12 308.07,706.14 319.85,709.05" fill="none" stroke="#1414f5" stroke-width="1.8"/>
<path d="M96.03,594.26L101.73,599.56L96.03,604.86L90.33,599.56Z" fill="#1414f5"/>
<path d="M107.81,603.74L113.51,609.04L107.81,614.34L102.11,609.04Z" fill="#1414f5"/>
<path d="M119.59,612.88L125.29,618.18L119.59,623.48L113.89,618.18Z" fill="#1414f5"/>
<path d="M131.37,621.19L137.07,626.49L131.37,631.79L125.67,626.49Z" fill="#1414f5"/>
<path d="M143.15,629.95L148.85,635.25L143.15,640.55L137.45,635.25Z" fill="#1414f5"/>
<path d="M154.93,636.95L160.63,642.25L154.93,647.55L149.23,642.25Z" fill="#1414f5"/>
<path d="M166.71,644.00L172.41,649.30L166.71,654.60L161.01,649.30Z" fill="#1414f5"/>
<path d="M178.49,650.80L184.19,656.10L178.49,661.40L172.79,656.10Z" fill="#1414f5"/>
<path d="M190.27,656.88L195.97,662.18L190.27,667.48L184.57,662.18Z" fill="#1414f5"/>
<path d="M202.05,662.57L207.75,667.87L202.05,673.17L196.35,667.87Z" fill="#1414f5"/>
<path d="M213.83,668.07L219.53,673.37L213.83,678.67L208.13,673.37Z" fill="#1414f5"/>
<path d="M225.61,674.19L231.31,679.49L225.61,684.79L219.91,679.49Z" fill="#1414f5"/>
<path d="M237.39,679.69L243.09,684.99L237.39,690.29L231.69,684.99Z" fill="#1414f5"/>
<path d="M249.17,684.01L254.87,689.31L249.17,694.61L243.47,689.31Z" fill="#1414f5"/>
<path d="M260.95,688.00L266.65,693.30L260.95,698.60L255.25,693.30Z" fill="#1414f5"/>
<path d="M272.73,691.94L278.43,697.24L272.73,702.54L267.03,697.24Z" fill="#1414f5"/>
<path d="M284.51,694.90L290.21,700.20L284.51,705.50L278.81,700.20Z" fill="#1414f5"/>
<path d="M296.29,697.82L301.99,703.12L296.29,708.42L290.59,703.12Z" fill="#1414f5"/>
<path d="M308.07,700.84L313.77,706.14L308.07,711.44L302.37,706.14Z" fill="#1414f5"/>
<path d="M319.85,703.75L325.55,709.05L319.85,714.35L314.15,709.05Z" fill="#1414f5"/>
<polyline points="96.03,607.14 107.81,614.73 119.59,624.55 131.37,632.77 143.15,640.35 154.93,647.01 166.71,654.21 178.49,660.29 190.27,667.87 202.05,673.61 213.83,679.20 225.61,684.40 237.39,690.33 249.17,694.81 260.95,698.79 272.73,702.15 284.51,706.14 296.29,709.05 308.07,712.02 319.85,714.94" fill="none" stroke="#f53c96" stroke-width="1.8"/>
<circle cx="96.03" cy="607.14" r="4.6" fill="#f53c96"/>
<circle cx="107.81" cy="614.73" r="4.6" fill="#f53c96"/>
<circle cx="119.59" cy="624.55" r="4.6" fill="#f53c96"/>
<circle cx="131.37" cy="632.77" r="4.6" fill="#f53c96"/>
<circle cx="143.15" cy="640.35" r="4.6" fill="#f53c96"/>
<circle cx="154.93" cy="647.01" r="4.6" fill="#f53c96"/>
<circle cx="166.71" cy="654.21" r="4.6" fill="#f53c96"/>
<circle cx="178.49" cy="660.29" r="4.6" fill="#f53c96"/>
<circle cx="190.27" cy="667.87" r="4.6" fill="#f53c96"/>
<circle cx="202.05" cy="673.61" r="4.6" fill="#f53c96"/>
<circle cx="213.83" cy="679.20" r="4.6" fill="#f53c96"/>
<circle cx="225.61" cy="684.40" r="4.6" fill="#f53c96"/>
<circle cx="237.39" cy="690.33" r="4.6" fill="#f53c96"/>
<circle cx="249.17" cy="694.81" r="4.6" fill="#f53c96"/>
<circle cx="260.95" cy="698.79" r="4.6" fill="#f53c96"/>
<circle cx="272.73" cy="702.15" r="4.6" fill="#f53c96"/>
<circle cx="284.51" cy="706.14" r="4.6" fill="#f53c96"/>
<circle cx="296.29" cy="709.05" r="4.6" fill="#f53c96"/>
<circle cx="308.07" cy="712.02" r="4.6" fill="#f53c96"/>
<circle cx="319.85" cy="714.94" r="4.6" fill="#f53c96"/>
<polyline points="96.03,611.86 107.81,620.37 119.59,629.85 131.37,637.48 143.15,645.07 154.93,651.78 166.71,658.39 178.49,665.10 190.27,671.71 202.05,677.40 213.83,682.75 225.61,687.32 237.39,692.91 249.17,697.24 260.95,701.57 272.73,705.12 284.51,708.62 296.29,712.02 308.07,715.96 319.85,718.92" fill="none" stroke="#2e8c22" stroke-width="1.8"/>
<path d="M96.03,606.96L90.99,610.62L92.92,616.55L99.15,616.55L101.07,610.62Z" fill="#2e8c22"/>
<path d="M107.81,615.47L102.77,619.13L104.70,625.05L110.93,625.05L112.85,619.13Z" fill="#2e8c22"/>
<path d="M119.59,624.95L114.55,628.61L116.48,634.54L122.71,634.54L124.63,628.61Z" fill="#2e8c22"/>
<path d="M131.37,632.58L126.33,636.24L128.26,642.17L134.49,642.17L136.41,636.24Z" fill="#2e8c22"/>
<path d="M143.15,640.17L138.11,643.83L140.04,649.75L146.27,649.75L148.19,643.83Z" fill="#2e8c22"/>
<path d="M154.93,646.88L149.89,650.54L151.82,656.46L158.05,656.46L159.97,650.54Z" fill="#2e8c22"/>
<path d="M166.71,653.49L161.67,657.15L163.60,663.08L169.83,663.08L171.75,657.15Z" fill="#2e8c22"/>
<path d="M178.49,660.20L173.45,663.86L175.38,669.79L181.61,669.79L183.53,663.86Z" fill="#2e8c22"/>
<path d="M190.27,666.81L185.23,670.47L187.16,676.40L193.39,676.40L195.31,670.47Z" fill="#2e8c22"/>
<path d="M202.05,672.50L197.01,676.16L198.94,682.09L205.17,682.09L207.09,676.16Z" fill="#2e8c22"/>
<path d="M213.83,677.85L208.79,681.51L210.72,687.44L216.95,687.44L218.87,681.51Z" fill="#2e8c22"/>
<path d="M225.61,682.42L220.57,686.08L222.50,692.01L228.73,692.01L230.65,686.08Z" fill="#2e8c22"/>
<path d="M237.39,688.01L232.35,691.67L234.28,697.60L240.51,697.60L242.43,691.67Z" fill="#2e8c22"/>
<path d="M249.17,692.34L244.13,696.00L246.06,701.93L252.29,701.93L254.21,696.00Z" fill="#2e8c22"/>
<path d="M260.95,696.67L255.91,700.33L257.84,706.25L264.07,706.25L265.99,700.33Z" fill="#2e8c22"/>
<path d="M272.73,700.22L267.69,703.88L269.62,709.80L275.85,709.80L277.77,703.88Z" fill="#2e8c22"/>
<path d="M284.51,703.72L279.47,707.38L281.40,713.30L287.63,713.30L289.55,707.38Z" fill="#2e8c22"/>
<path d="M296.29,707.12L291.25,710.78L293.18,716.71L299.41,716.71L301.33,710.78Z" fill="#2e8c22"/>
<path d="M308.07,711.06L303.03,714.72L304.96,720.65L311.19,720.65L313.11,714.72Z" fill="#2e8c22"/>
<path d="M319.85,714.02L314.81,717.69L316.74,723.61L322.97,723.61L324.89,717.69Z" fill="#2e8c22"/>
<polyline points="96.03,617.55 107.81,627.08 119.59,635.59 131.37,644.19 143.15,651.78 154.93,659.36 166.71,666.90 178.49,673.22 190.27,679.30 202.05,685.91 213.83,691.36 225.61,696.22 237.39,701.57 249.17,706.14 260.95,711.05 272.73,714.94 284.51,718.54 296.29,721.84 308.07,725.83 319.85,728.79" fill="none" stroke="#aaa032" stroke-width="1.8"/>
<path d="M100.83,617.55L91.83,612.55L91.83,622.55Z" fill="#aaa032"/>
<path d="M112.61,627.08L103.61,622.08L103.61,632.08Z" fill="#aaa032"/>
<path d="M124.39,635.59L115.39,630.59L115.39,640.59Z" fill="#aaa032"/>
<path d="M136.17,644.19L127.17,639.19L127.17,649.19Z" fill="#aaa032"/>
<path d="M147.95,651.78L138.95,646.78L138.95,656.78Z" fill="#aaa032"/>
<path d="M159.73,659.36L150.73,654.36L150.73,664.36Z" fill="#aaa032"/>
<path d="M171.51,666.90L162.51,661.90L162.51,671.90Z" fill="#aaa032"/>
<path d="M183.29,673.22L174.29,668.22L174.29,678.22Z" fill="#aaa032"/>
<path d="M195.07,679.30L186.07,674.30L186.07,684.30Z" fill="#aaa032"/>
<path d="M206.85,685.91L197.85,680.91L197.85,690.91Z" fill="#aaa032"/>
<path d="M218.63,691.36L209.63,686.36L209.63,696.36Z" fill="#aaa032"/>
<path d="M230.41,696.22L221.41,691.22L221.41,701.22Z" fill="#aaa032"/>
<path d="M242.19,701.57L233.19,696.57L233.19,706.57Z" fill="#aaa032"/>
<path d="M253.97,706.14L244.97,701.14L244.97,711.14Z" fill="#aaa032"/>
<path d="M265.75,711.05L256.75,706.05L256.75,716.05Z" fill="#aaa032"/>
<path d="M277.53,714.94L268.53,709.94L268.53,719.94Z" fill="#aaa032"/>
<path d="M289.31,718.54L280.31,713.54L280.31,723.54Z" fill="#aaa032"/>
<path d="M301.09,721.84L292.09,716.84L292.09,726.84Z" fill="#aaa032"/>
<path d="M312.87,725.83L303.87,720.83L303.87,730.83Z" fill="#aaa032"/>
<path d="M324.65,728.79L315.65,723.79L315.65,733.79Z" fill="#aaa032"/>
<path d="M96.03,603.74V610.55M93.43,603.74h5.2M93.43,610.55h5.2M107.81,611.32V618.13M105.21,611.32h5.2M105.21,618.13h5.2M119.59,621.15V627.95M116.99,621.15h5.2M116.99,627.95h5.2M131.37,629.36V636.17M128.77,629.36h5.2M128.77,636.17h5.2M143.15,636.95V643.75M140.55,636.95h5.2M140.55,643.75h5.2M154.93,643.61V650.42M152.33,643.61h5.2M152.33,650.42h5.2M166.71,650.80V657.61M164.11,650.80h5.2M164.11,657.61h5.2M178.49,656.88V663.69M175.89,656.88h5.2M175.89,663.69h5.2M190.27,664.47V671.27M187.67,664.47h5.2M187.67,671.27h5.2M202.05,670.20V677.01M199.45,670.20h5.2M199.45,677.01h5.2M213.83,675.80V682.60M211.23,675.80h5.2M211.23,682.60h5.2M225.61,681.00V687.81M223.01,681.00h5.2M223.01,687.81h5.2M237.39,686.93V693.74M234.79,686.93h5.2M234.79,693.74h5.2M249.17,691.40V698.21M246.57,691.40h5.2M246.57,698.21h5.2M260.95,695.39V702.20M258.35,695.39h5.2M258.35,702.20h5.2M272.73,698.75V705.55M270.13,698.75h5.2M270.13,705.55h5.2M284.51,702.73V709.54M281.91,702.73h5.2M281.91,709.54h5.2M296.29,705.65V712.46M293.69,705.65h5.2M293.69,712.46h5.2M308.07,708.62V715.42M305.47,708.62h5.2M305.47,715.42h5.2M319.85,711.53V718.34M317.25,711.53h5.2M317.25,718.34h5.2" stroke="#f53c96" stroke-width="1.5" fill="none"/>
</g>
<rect x="76.5" y="569.8" width="253.90" height="218.80" fill="none" stroke="#000" stroke-width="2.7"/>
<text x="96.03" y="804.60" class="tl" text-anchor="middle">300</text>
<text x="135.09" y="804.60" class="tl" text-anchor="middle">400</text>
<text x="174.15" y="804.60" class="tl" text-anchor="middle">500</text>
<text x="213.22" y="804.60" class="tl" text-anchor="middle">600</text>
<text x="252.28" y="804.60" class="tl" text-anchor="middle">700</text>
<text x="291.34" y="804.60" class="tl" text-anchor="middle">800</text>
<text x="330.40" y="804.60" class="tl" text-anchor="middle">900</text>
<text x="71.30" y="792.30" class="tl" text-anchor="end">0.5</text>
<text x="71.30" y="767.99" class="tl" text-anchor="end">1.0</text>
<text x="71.30" y="743.68" class="tl" text-anchor="end">1.5</text>
<text x="71.30" y="719.37" class="tl" text-anchor="end">2.0</text>
<text x="71.30" y="695.06" class="tl" text-anchor="end">2.5</text>
<text x="71.30" y="670.74" class="tl" text-anchor="end">3.0</text>
<text x="71.30" y="646.43" class="tl" text-anchor="end">3.5</text>
<text x="71.30" y="622.12" class="tl" text-anchor="end">4.0</text>
<text x="71.30" y="597.81" class="tl" text-anchor="end">4.5</text>
<text x="71.30" y="573.50" class="tl" text-anchor="end">5.0</text>
<rect x="414.2" y="571.3" width="253.50" height="218.20" fill="url(#bgf)"/>
<clipPath id="cf"><rect x="415.4" y="572.5" width="251.10" height="215.80"/></clipPath>
<path d="M433.70,789.5v-3.9M472.70,789.5v-3.9M511.70,789.5v-3.9M550.70,789.5v-3.9M589.70,789.5v-3.9M628.70,789.5v-3.9M667.70,789.5v-3.9M453.20,789.5v-2.4M492.20,789.5v-2.4M531.20,789.5v-2.4M570.20,789.5v-2.4M609.20,789.5v-2.4M648.20,789.5v-2.4M414.2,789.50h4.0M667.7,789.50h-4.0M414.2,773.91h2.5M667.7,773.91h-2.5M414.2,758.33h4.0M667.7,758.33h-4.0M414.2,742.74h2.5M667.7,742.74h-2.5M414.2,727.16h4.0M667.7,727.16h-4.0M414.2,711.57h2.5M667.7,711.57h-2.5M414.2,695.99h4.0M667.7,695.99h-4.0M414.2,680.40h2.5M667.7,680.40h-2.5M414.2,664.81h4.0M667.7,664.81h-4.0M414.2,649.23h2.5M667.7,649.23h-2.5M414.2,633.64h4.0M667.7,633.64h-4.0M414.2,618.06h2.5M667.7,618.06h-2.5M414.2,602.47h4.0M667.7,602.47h-4.0M414.2,586.89h2.5M667.7,586.89h-2.5M414.2,571.30h4.0M667.7,571.30h-4.0" stroke="#000" stroke-width="2.2" fill="none"/>
<g clip-path="url(#cf)">
<polyline points="433.70,769.08 445.46,762.23 457.22,756.30 468.98,749.44 480.75,742.59 492.51,734.64 504.27,726.69 516.03,716.87 527.79,707.99 539.55,698.17 551.32,689.75 563.08,681.34 574.84,672.76 586.60,664.19 598.36,655.77 610.12,647.20 621.89,640.50 633.65,633.02 645.41,628.19 657.17,624.76" fill="none" stroke="#8c1414" stroke-width="1.8"/>
<rect x="429.70" y="765.08" width="8.00" height="8.00" fill="#8c1414"/>
<rect x="441.46" y="758.23" width="8.00" height="8.00" fill="#8c1414"/>
<rect x="453.22" y="752.30" width="8.00" height="8.00" fill="#8c1414"/>
<rect x="464.98" y="745.44" width="8.00" height="8.00" fill="#8c1414"/>
<rect x="476.75" y="738.59" width="8.00" height="8.00" fill="#8c1414"/>
<rect x="488.51" y="730.64" width="8.00" height="8.00" fill="#8c1414"/>
<rect x="500.27" y="722.69" width="8.00" height="8.00" fill="#8c1414"/>
<rect x="512.03" y="712.87" width="8.00" height="8.00" fill="#8c1414"/>
<rect x="523.79" y="703.99" width="8.00" height="8.00" fill="#8c1414"/>
<rect x="535.55" y="694.17" width="8.00" height="8.00" fill="#8c1414"/>
<rect x="547.32" y="685.75" width="8.00" height="8.00" fill="#8c1414"/>
<rect x="559.08" y="677.34" width="8.00" height="8.00" fill="#8c1414"/>
<rect x="570.84" y="668.76" width="8.00" height="8.00" fill="#8c1414"/>
<rect x="582.60" y="660.19" width="8.00" height="8.00" fill="#8c1414"/>
<rect x="594.36" y="651.77" width="8.00" height="8.00" fill="#8c1414"/>
<rect x="606.12" y="643.20" width="8.00" height="8.00" fill="#8c1414"/>
<rect x="617.89" y="636.50" width="8.00" height="8.00" fill="#8c1414"/>
<rect x="629.65" y="629.02" width="8.00" height="8.00" fill="#8c1414"/>
<rect x="641.41" y="624.19" width="8.00" height="8.00" fill="#8c1414"/>
<rect x="653.17" y="620.76" width="8.00" height="8.00" fill="#8c1414"/>
<polyline points="433.70,767.68 445.46,761.03 457.22,753.95 468.98,746.49 480.75,738.69 492.51,730.59 504.27,722.21 516.03,713.25 527.79,703.66 539.55,693.86 551.32,684.27 563.08,674.72 574.84,665.27 586.60,656.46 598.36,648.65 610.12,640.62 621.89,632.05 633.65,625.00 645.41,619.84 657.17,616.34" fill="none" stroke="#f08c2c" stroke-width="1.8"/>
<path d="M433.70,761.88L439.00,771.78L428.40,771.78Z" fill="#f08c2c"/>
<path d="M445.46,755.23L450.76,765.13L440.16,765.13Z" fill="#f08c2c"/>
<path d="M457.22,748.15L462.52,758.05L451.92,758.05Z" fill="#f08c2c"/>
<path d="M468.98,740.69L474.28,750.59L463.68,750.59Z" fill="#f08c2c"/>
<path d="M480.75,732.89L486.05,742.79L475.45,742.79Z" fill="#f08c2c"/>
<path d="M492.51,724.79L497.81,734.69L487.21,734.69Z" fill="#f08c2c"/>
<path d="M504.27,716.41L509.57,726.31L498.97,726.31Z" fill="#f08c2c"/>
<path d="M516.03,707.45L521.33,717.35L510.73,717.35Z" fill="#f08c2c"/>
<path d="M527.79,697.86L533.09,707.76L522.49,707.76Z" fill="#f08c2c"/>
<path d="M539.55,688.06L544.85,697.96L534.25,697.96Z" fill="#f08c2c"/>
<path d="M551.32,678.47L556.62,688.37L546.02,688.37Z" fill="#f08c2c"/>
<path d="M563.08,668.92L568.38,678.82L557.78,678.82Z" fill="#f08c2c"/>
<path d="M574.84,659.47L580.14,669.37L569.54,669.37Z" fill="#f08c2c"/>
<path d="M586.60,650.66L591.90,660.56L581.30,660.56Z" fill="#f08c2c"/>
<path d="M598.36,642.85L603.66,652.75L593.06,652.75Z" fill="#f08c2c"/>
<path d="M610.12,634.82L615.42,644.72L604.82,644.72Z" fill="#f08c2c"/>
<path d="M621.89,626.25L627.19,636.15L616.59,636.15Z" fill="#f08c2c"/>
<path d="M633.65,619.20L638.95,629.10L628.35,629.10Z" fill="#f08c2c"/>
<path d="M645.41,614.04L650.71,623.94L640.11,623.94Z" fill="#f08c2c"/>
<path d="M657.17,610.54L662.47,620.44L651.87,620.44Z" fill="#f08c2c"/>
<polyline points="433.70,763.78 445.46,757.57 457.22,750.56 468.98,742.85 480.75,734.58 492.51,725.83 504.27,716.73 516.03,706.19 527.79,695.59 539.55,686.80 551.32,678.04 563.08,667.81 574.84,658.03 586.60,649.92 598.36,642.45 610.12,635.41 621.89,628.36 633.65,620.76 645.41,612.45 657.17,607.15" fill="none" stroke="#1414f5" stroke-width="1.8"/>
<path d="M433.70,758.48L439.40,763.78L433.70,769.08L428.00,763.78Z" fill="#1414f5"/>
<path d="M445.46,752.27L451.16,757.57L445.46,762.87L439.76,757.57Z" fill="#1414f5"/>
<path d="M457.22,745.26L462.92,750.56L457.22,755.86L451.52,750.56Z" fill="#1414f5"/>
<path d="M468.98,737.55L474.68,742.85L468.98,748.15L463.28,742.85Z" fill="#1414f5"/>
<path d="M480.75,729.28L486.45,734.58L480.75,739.88L475.05,734.58Z" fill="#1414f5"/>
<path d="M492.51,720.53L498.21,725.83L492.51,731.13L486.81,725.83Z" fill="#1414f5"/>
<path d="M504.27,711.43L509.97,716.73L504.27,722.03L498.57,716.73Z" fill="#1414f5"/>
<path d="M516.03,700.89L521.73,706.19L516.03,711.49L510.33,706.19Z" fill="#1414f5"/>
<path d="M527.79,690.29L533.49,695.59L527.79,700.89L522.09,695.59Z" fill="#1414f5"/>
<path d="M539.55,681.50L545.25,686.80L539.55,692.10L533.85,686.80Z" fill="#1414f5"/>
<path d="M551.32,672.74L557.02,678.04L551.32,683.34L545.62,678.04Z" fill="#1414f5"/>
<path d="M563.08,662.51L568.78,667.81L563.08,673.11L557.38,667.81Z" fill="#1414f5"/>
<path d="M574.84,652.73L580.54,658.03L574.84,663.33L569.14,658.03Z" fill="#1414f5"/>
<path d="M586.60,644.62L592.30,649.92L586.60,655.22L580.90,649.92Z" fill="#1414f5"/>
<path d="M598.36,637.15L604.06,642.45L598.36,647.75L592.66,642.45Z" fill="#1414f5"/>
<path d="M610.12,630.11L615.82,635.41L610.12,640.71L604.42,635.41Z" fill="#1414f5"/>
<path d="M621.89,623.06L627.59,628.36L621.89,633.66L616.19,628.36Z" fill="#1414f5"/>
<path d="M633.65,615.46L639.35,620.76L633.65,626.06L627.95,620.76Z" fill="#1414f5"/>
<path d="M645.41,607.15L651.11,612.45L645.41,617.75L639.71,612.45Z" fill="#1414f5"/>
<path d="M657.17,601.85L662.87,607.15L657.17,612.45L651.47,607.15Z" fill="#1414f5"/>
<polyline points="433.70,761.13 445.46,754.28 457.22,747.42 468.98,738.53 480.75,729.65 492.51,719.83 504.27,710.01 516.03,700.19 527.79,689.28 539.55,679.46 551.32,669.02 563.08,658.58 574.84,649.07 586.60,639.57 598.36,630.06 610.12,620.55 621.89,611.98 633.65,603.56 645.41,594.99 657.17,589.22" fill="none" stroke="#f53c96" stroke-width="1.8"/>
<circle cx="433.70" cy="761.13" r="4.6" fill="#f53c96"/>
<circle cx="445.46" cy="754.28" r="4.6" fill="#f53c96"/>
<circle cx="457.22" cy="747.42" r="4.6" fill="#f53c96"/>
<circle cx="468.98" cy="738.53" r="4.6" fill="#f53c96"/>
<circle cx="480.75" cy="729.65" r="4.6" fill="#f53c96"/>
<circle cx="492.51" cy="719.83" r="4.6" fill="#f53c96"/>
<circle cx="504.27" cy="710.01" r="4.6" fill="#f53c96"/>
<circle cx="516.03" cy="700.19" r="4.6" fill="#f53c96"/>
<circle cx="527.79" cy="689.28" r="4.6" fill="#f53c96"/>
<circle cx="539.55" cy="679.46" r="4.6" fill="#f53c96"/>
<circle cx="551.32" cy="669.02" r="4.6" fill="#f53c96"/>
<circle cx="563.08" cy="658.58" r="4.6" fill="#f53c96"/>
<circle cx="574.84" cy="649.07" r="4.6" fill="#f53c96"/>
<circle cx="586.60" cy="639.57" r="4.6" fill="#f53c96"/>
<circle cx="598.36" cy="630.06" r="4.6" fill="#f53c96"/>
<circle cx="610.12" cy="620.55" r="4.6" fill="#f53c96"/>
<circle cx="621.89" cy="611.98" r="4.6" fill="#f53c96"/>
<circle cx="633.65" cy="603.56" r="4.6" fill="#f53c96"/>
<circle cx="645.41" cy="594.99" r="4.6" fill="#f53c96"/>
<circle cx="657.17" cy="589.22" r="4.6" fill="#f53c96"/>
<polyline points="433.70,764.56 445.46,758.09 457.22,750.91 468.98,743.14 480.75,734.85 492.51,726.15 504.27,717.13 516.03,706.86 527.79,696.53 539.55,687.76 551.32,678.97 563.08,668.93 574.84,659.10 586.60,650.49 598.36,641.20 610.12,631.33 621.89,622.19 633.65,614.39 645.41,606.43 657.17,599.20" fill="none" stroke="#2e8c22" stroke-width="1.8"/>
<path d="M433.70,759.66L428.66,763.33L430.58,769.25L436.82,769.25L438.74,763.33Z" fill="#2e8c22"/>
<path d="M445.46,753.19L440.42,756.85L442.35,762.77L448.58,762.77L450.50,756.85Z" fill="#2e8c22"/>
<path d="M457.22,746.01L452.18,749.67L454.11,755.60L460.34,755.60L462.26,749.67Z" fill="#2e8c22"/>
<path d="M468.98,738.24L463.94,741.90L465.87,747.82L472.10,747.82L474.03,741.90Z" fill="#2e8c22"/>
<path d="M480.75,729.95L475.71,733.61L477.63,739.54L483.86,739.54L485.79,733.61Z" fill="#2e8c22"/>
<path d="M492.51,721.25L487.47,724.91L489.39,730.84L495.62,730.84L497.55,724.91Z" fill="#2e8c22"/>
<path d="M504.27,712.23L499.23,715.89L501.15,721.82L507.38,721.82L509.31,715.89Z" fill="#2e8c22"/>
<path d="M516.03,701.96L510.99,705.62L512.92,711.54L519.15,711.54L521.07,705.62Z" fill="#2e8c22"/>
<path d="M527.79,691.63L522.75,695.29L524.68,701.21L530.91,701.21L532.83,695.29Z" fill="#2e8c22"/>
<path d="M539.55,682.86L534.51,686.52L536.44,692.44L542.67,692.44L544.59,686.52Z" fill="#2e8c22"/>
<path d="M551.32,674.07L546.28,677.74L548.20,683.66L554.43,683.66L556.36,677.74Z" fill="#2e8c22"/>
<path d="M563.08,664.03L558.04,667.70L559.96,673.62L566.19,673.62L568.12,667.70Z" fill="#2e8c22"/>
<path d="M574.84,654.20L569.80,657.86L571.72,663.79L577.95,663.79L579.88,657.86Z" fill="#2e8c22"/>
<path d="M586.60,645.59L581.56,649.25L583.49,655.18L589.72,655.18L591.64,649.25Z" fill="#2e8c22"/>
<path d="M598.36,636.30L593.32,639.96L595.25,645.89L601.48,645.89L603.40,639.96Z" fill="#2e8c22"/>
<path d="M610.12,626.43L605.08,630.10L607.01,636.02L613.24,636.02L615.16,630.10Z" fill="#2e8c22"/>
<path d="M621.89,617.29L616.84,620.95L618.77,626.88L625.00,626.88L626.93,620.95Z" fill="#2e8c22"/>
<path d="M633.65,609.49L628.61,613.15L630.53,619.08L636.76,619.08L638.69,613.15Z" fill="#2e8c22"/>
<path d="M645.41,601.53L640.37,605.19L642.29,611.12L648.52,611.12L650.45,605.19Z" fill="#2e8c22"/>
<path d="M657.17,594.30L652.13,597.96L654.05,603.89L660.29,603.89L662.21,597.96Z" fill="#2e8c22"/>
<polyline points="433.70,766.12 445.46,760.84 457.22,754.48 468.98,747.21 480.75,739.20 492.51,730.59 504.27,721.57 516.03,710.60 527.79,699.47 539.55,690.46 551.32,681.80 563.08,673.00 574.84,663.54 586.60,652.44 598.36,643.28 610.12,634.62 621.89,624.85 633.65,617.49 645.41,609.13 657.17,603.09" fill="none" stroke="#aaa032" stroke-width="1.8"/>
<path d="M438.50,766.12L429.50,761.12L429.50,771.12Z" fill="#aaa032"/>
<path d="M450.26,760.84L441.26,755.84L441.26,765.84Z" fill="#aaa032"/>
<path d="M462.02,754.48L453.02,749.48L453.02,759.48Z" fill="#aaa032"/>
<path d="M473.78,747.21L464.78,742.21L464.78,752.21Z" fill="#aaa032"/>
<path d="M485.55,739.20L476.55,734.20L476.55,744.20Z" fill="#aaa032"/>
<path d="M497.31,730.59L488.31,725.59L488.31,735.59Z" fill="#aaa032"/>
<path d="M509.07,721.57L500.07,716.57L500.07,726.57Z" fill="#aaa032"/>
<path d="M520.83,710.60L511.83,705.60L511.83,715.60Z" fill="#aaa032"/>
<path d="M532.59,699.47L523.59,694.47L523.59,704.47Z" fill="#aaa032"/>
<path d="M544.35,690.46L535.35,685.46L535.35,695.46Z" fill="#aaa032"/>
<path d="M556.12,681.80L547.12,676.80L547.12,686.80Z" fill="#aaa032"/>
<path d="M567.88,673.00L558.88,668.00L558.88,678.00Z" fill="#aaa032"/>
<path d="M579.64,663.54L570.64,658.54L570.64,668.54Z" fill="#aaa032"/>
<path d="M591.40,652.44L582.40,647.44L582.40,657.44Z" fill="#aaa032"/>
<path d="M603.16,643.28L594.16,638.28L594.16,648.28Z" fill="#aaa032"/>
<path d="M614.92,634.62L605.92,629.62L605.92,639.62Z" fill="#aaa032"/>
<path d="M626.69,624.85L617.69,619.85L617.69,629.85Z" fill="#aaa032"/>
<path d="M638.45,617.49L629.45,612.49L629.45,622.49Z" fill="#aaa032"/>
<path d="M650.21,609.13L641.21,604.13L641.21,614.13Z" fill="#aaa032"/>
<path d="M661.97,603.09L652.97,598.09L652.97,608.09Z" fill="#aaa032"/>
<path d="M433.70,758.02V764.25M431.10,758.02h5.2M431.10,764.25h5.2M445.46,750.78V757.77M442.86,750.78h5.2M442.86,757.77h5.2M457.22,743.55V751.29M454.62,743.55h5.2M454.62,751.29h5.2M468.98,734.17V742.90M466.38,734.17h5.2M466.38,742.90h5.2M480.75,724.80V734.50M478.15,724.80h5.2M478.15,734.50h5.2M492.51,714.44V725.22M489.91,714.44h5.2M489.91,725.22h5.2M504.27,704.08V715.94M501.67,704.08h5.2M501.67,715.94h5.2M516.03,693.72V706.66M513.43,693.72h5.2M513.43,706.66h5.2M527.79,682.21V696.35M525.19,682.21h5.2M525.19,696.35h5.2M539.55,671.85V687.08M536.95,671.85h5.2M536.95,687.08h5.2M551.32,660.84V677.21M548.72,660.84h5.2M548.72,677.21h5.2M563.08,649.82V667.34M560.48,649.82h5.2M560.48,667.34h5.2M574.84,639.79V658.35M572.24,639.79h5.2M572.24,658.35h5.2M586.60,629.76V649.37M584.00,629.76h5.2M584.00,649.37h5.2M598.36,619.73V640.39M595.76,619.73h5.2M595.76,640.39h5.2M610.12,609.70V631.40M607.52,609.70h5.2M607.52,631.40h5.2M621.89,600.66V623.30M619.29,600.66h5.2M619.29,623.30h5.2M633.65,591.78V615.35M631.05,591.78h5.2M631.05,615.35h5.2M645.41,582.73V607.25M642.81,582.73h5.2M642.81,607.25h5.2M657.17,576.65V601.80M654.57,576.65h5.2M654.57,601.80h5.2" stroke="#f53c96" stroke-width="1.5" fill="none"/>
</g>
<rect x="414.2" y="571.3" width="253.50" height="218.20" fill="none" stroke="#000" stroke-width="2.7"/>
<text x="433.70" y="805.50" class="tl" text-anchor="middle">300</text>
<text x="472.70" y="805.50" class="tl" text-anchor="middle">400</text>
<text x="511.70" y="805.50" class="tl" text-anchor="middle">500</text>
<text x="550.70" y="805.50" class="tl" text-anchor="middle">600</text>
<text x="589.70" y="805.50" class="tl" text-anchor="middle">700</text>
<text x="628.70" y="805.50" class="tl" text-anchor="middle">800</text>
<text x="667.70" y="805.50" class="tl" text-anchor="middle">900</text>
<text x="409.00" y="793.20" class="tl" text-anchor="end">0.0</text>
<text x="409.00" y="762.03" class="tl" text-anchor="end">0.2</text>
<text x="409.00" y="730.86" class="tl" text-anchor="end">0.4</text>
<text x="409.00" y="699.69" class="tl" text-anchor="end">0.6</text>
<text x="409.00" y="668.51" class="tl" text-anchor="end">0.8</text>
<text x="409.00" y="637.34" class="tl" text-anchor="end">1.0</text>
<text x="409.00" y="606.17" class="tl" text-anchor="end">1.2</text>
<text x="409.00" y="575.00" class="tl" text-anchor="end">1.4</text>
<path d="M212.60,105.40H237.30" stroke="#8c1414" stroke-width="2.0"/><rect x="220.95" y="101.40" width="8.00" height="8.00" fill="#8c1414"/><g transform="translate(241.50,110.00) scale(1.0200,1)"><text x="0" y="0" class="lg" fill="#8c1414" stroke="#8c1414" stroke-width="0.2">uncoated</text></g>
<path d="M212.60,127.30H237.30" stroke="#f08c2c" stroke-width="2.0"/><path d="M224.95,121.50L230.25,131.40L219.65,131.40Z" fill="#f08c2c"/><g transform="translate(241.50,131.90) scale(1.0394,1)"><text x="0" y="0" class="lg" fill="#f08c2c" stroke="#f08c2c" stroke-width="0.2">TiO</text><text x="25.02" y="4.4" class="lg" style="font-size:11px" fill="#f08c2c" stroke="#f08c2c" stroke-width="0.15">2</text><text x="34.74" y="0" class="lg" fill="#f08c2c" stroke="#f08c2c" stroke-width="0.2">0.8 nm</text></g>
<path d="M212.60,151.40H237.30" stroke="#1414f5" stroke-width="2.0"/><path d="M224.95,146.10L230.65,151.40L224.95,156.70L219.25,151.40Z" fill="#1414f5"/><g transform="translate(241.50,156.00) scale(1.0345,1)"><text x="0" y="0" class="lg" fill="#1414f5" stroke="#1414f5" stroke-width="0.2">TiO</text><text x="25.02" y="4.4" class="lg" style="font-size:11px" fill="#1414f5" stroke="#1414f5" stroke-width="0.15">2</text><text x="34.74" y="0" class="lg" fill="#1414f5" stroke="#1414f5" stroke-width="0.2">1.6 nm</text></g>
<path d="M212.60,176.10H237.30" stroke="#f53c96" stroke-width="2.0"/><circle cx="224.95" cy="176.10" r="4.6" fill="#f53c96"/><g transform="translate(241.50,180.70) scale(1.0338,1)"><text x="0" y="0" class="lg" fill="#f53c96" stroke="#f53c96" stroke-width="0.2">TiO</text><text x="25.02" y="4.4" class="lg" style="font-size:11px" fill="#f53c96" stroke="#f53c96" stroke-width="0.15">2</text><text x="36.64" y="0" class="lg" fill="#f53c96" stroke="#f53c96" stroke-width="0.2">3.2 nm</text></g>
<path d="M212.60,200.40H237.30" stroke="#2e8c22" stroke-width="2.0"/><path d="M224.95,195.50L219.91,199.16L221.83,205.09L228.07,205.09L229.99,199.16Z" fill="#2e8c22"/><g transform="translate(241.50,205.00) scale(1.0338,1)"><text x="0" y="0" class="lg" fill="#2e8c22" stroke="#2e8c22" stroke-width="0.2">TiO</text><text x="25.02" y="4.4" class="lg" style="font-size:11px" fill="#2e8c22" stroke="#2e8c22" stroke-width="0.15">2</text><text x="36.64" y="0" class="lg" fill="#2e8c22" stroke="#2e8c22" stroke-width="0.2">4.8 nm</text></g>
<path d="M212.60,224.50H237.30" stroke="#aaa032" stroke-width="2.0"/><path d="M229.75,224.50L220.75,219.50L220.75,229.50Z" fill="#aaa032"/><g transform="translate(241.50,229.10) scale(1.0041,1)"><text x="0" y="0" class="lg" fill="#aaa032" stroke="#aaa032" stroke-width="0.2">TiO</text><text x="25.02" y="4.4" class="lg" style="font-size:11px" fill="#aaa032" stroke="#aaa032" stroke-width="0.15">2</text><text x="36.64" y="0" class="lg" fill="#aaa032" stroke="#aaa032" stroke-width="0.2">6.4 nm</text></g>
<path d="M420.80,51.90H446.50" stroke="#8c1414" stroke-width="2.0"/><rect x="429.65" y="47.90" width="8.00" height="8.00" fill="#8c1414"/><g transform="translate(450.70,56.50) scale(1.0110,1)"><text x="0" y="0" class="lg" fill="#8c1414" stroke="#8c1414" stroke-width="0.2">uncoated</text></g>
<path d="M420.80,76.40H446.50" stroke="#1414f5" stroke-width="2.0"/><path d="M433.65,71.10L439.35,76.40L433.65,81.70L427.95,76.40Z" fill="#1414f5"/><g transform="translate(450.70,81.00) scale(1.0394,1)"><text x="0" y="0" class="lg" fill="#1414f5" stroke="#1414f5" stroke-width="0.2">TiO</text><text x="25.02" y="4.4" class="lg" style="font-size:11px" fill="#1414f5" stroke="#1414f5" stroke-width="0.15">2</text><text x="34.74" y="0" class="lg" fill="#1414f5" stroke="#1414f5" stroke-width="0.2">1.6 nm</text></g>
<path d="M420.80,101.20H446.50" stroke="#2e8c22" stroke-width="2.0"/><path d="M433.65,96.30L428.61,99.96L430.53,105.89L436.77,105.89L438.69,99.96Z" fill="#2e8c22"/><g transform="translate(450.70,105.80) scale(1.0338,1)"><text x="0" y="0" class="lg" fill="#2e8c22" stroke="#2e8c22" stroke-width="0.2">TiO</text><text x="25.02" y="4.4" class="lg" style="font-size:11px" fill="#2e8c22" stroke="#2e8c22" stroke-width="0.15">2</text><text x="36.64" y="0" class="lg" fill="#2e8c22" stroke="#2e8c22" stroke-width="0.2">4.8 nm</text></g>
<path d="M420.80,123.40H446.50" stroke="#aaa032" stroke-width="2.0"/><path d="M438.45,123.40L429.45,118.40L429.45,128.40Z" fill="#aaa032"/><g transform="translate(450.70,128.00) scale(1.0266,1)"><text x="0" y="0" class="lg" fill="#aaa032" stroke="#aaa032" stroke-width="0.2">TiO</text><text x="25.02" y="4.4" class="lg" style="font-size:11px" fill="#aaa032" stroke="#aaa032" stroke-width="0.15">2</text><text x="36.64" y="0" class="lg" fill="#aaa032" stroke="#aaa032" stroke-width="0.2">6.4 nm</text></g>
<path d="M541.50,52.20H567.00" stroke="#f08c2c" stroke-width="2.0"/><path d="M554.25,46.40L559.55,56.30L548.95,56.30Z" fill="#f08c2c"/><g transform="translate(570.70,56.80) scale(1.0382,1)"><text x="0" y="0" class="lg" fill="#f08c2c" stroke="#f08c2c" stroke-width="0.2">TiO</text><text x="25.02" y="4.4" class="lg" style="font-size:11px" fill="#f08c2c" stroke="#f08c2c" stroke-width="0.15">2</text><text x="34.74" y="0" class="lg" fill="#f08c2c" stroke="#f08c2c" stroke-width="0.2">0.8 nm</text></g>
<path d="M543.90,76.30H569.90" stroke="#f53c96" stroke-width="2.0"/><circle cx="556.90" cy="76.30" r="4.6" fill="#f53c96"/><g transform="translate(574.20,80.90) scale(1.0647,1)"><text x="0" y="0" class="lg" fill="#f53c96" stroke="#f53c96" stroke-width="0.2">TiO</text><text x="25.02" y="4.4" class="lg" style="font-size:11px" fill="#f53c96" stroke="#f53c96" stroke-width="0.15">2</text><text x="36.64" y="0" class="lg" fill="#f53c96" stroke="#f53c96" stroke-width="0.2">3.2 nm</text></g>
<path d="M207.20,389.20H232.00" stroke="#8c1414" stroke-width="2.0"/><rect x="215.60" y="385.20" width="8.00" height="8.00" fill="#8c1414"/><g transform="translate(235.90,393.80) scale(0.9900,1)"><text x="0" y="0" class="lg" fill="#8c1414" stroke="#8c1414" stroke-width="0.2">uncoated</text></g>
<path d="M207.20,410.50H232.00" stroke="#f08c2c" stroke-width="2.0"/><path d="M219.60,404.70L224.90,414.60L214.30,414.60Z" fill="#f08c2c"/><g transform="translate(235.90,415.10) scale(1.0139,1)"><text x="0" y="0" class="lg" fill="#f08c2c" stroke="#f08c2c" stroke-width="0.2">TiO</text><text x="25.02" y="4.4" class="lg" style="font-size:11px" fill="#f08c2c" stroke="#f08c2c" stroke-width="0.15">2</text><text x="34.74" y="0" class="lg" fill="#f08c2c" stroke="#f08c2c" stroke-width="0.2">0.8 nm</text></g>
<path d="M207.20,434.10H232.00" stroke="#1414f5" stroke-width="2.0"/><path d="M219.60,428.80L225.30,434.10L219.60,439.40L213.90,434.10Z" fill="#1414f5"/><g transform="translate(235.90,438.70) scale(1.0139,1)"><text x="0" y="0" class="lg" fill="#1414f5" stroke="#1414f5" stroke-width="0.2">TiO</text><text x="25.02" y="4.4" class="lg" style="font-size:11px" fill="#1414f5" stroke="#1414f5" stroke-width="0.15">2</text><text x="34.74" y="0" class="lg" fill="#1414f5" stroke="#1414f5" stroke-width="0.2">1.6 nm</text></g>
<path d="M207.20,458.40H232.00" stroke="#f53c96" stroke-width="2.0"/><circle cx="219.60" cy="458.40" r="4.6" fill="#f53c96"/><g transform="translate(235.90,463.00) scale(1.0112,1)"><text x="0" y="0" class="lg" fill="#f53c96" stroke="#f53c96" stroke-width="0.2">TiO</text><text x="25.02" y="4.4" class="lg" style="font-size:11px" fill="#f53c96" stroke="#f53c96" stroke-width="0.15">2</text><text x="36.64" y="0" class="lg" fill="#f53c96" stroke="#f53c96" stroke-width="0.2">3.2 nm</text></g>
<path d="M207.20,481.40H232.00" stroke="#2e8c22" stroke-width="2.0"/><path d="M219.60,476.50L214.56,480.16L216.48,486.09L222.72,486.09L224.64,480.16Z" fill="#2e8c22"/><g transform="translate(235.90,486.00) scale(1.0088,1)"><text x="0" y="0" class="lg" fill="#2e8c22" stroke="#2e8c22" stroke-width="0.2">TiO</text><text x="25.02" y="4.4" class="lg" style="font-size:11px" fill="#2e8c22" stroke="#2e8c22" stroke-width="0.15">2</text><text x="36.64" y="0" class="lg" fill="#2e8c22" stroke="#2e8c22" stroke-width="0.2">4.8 nm</text></g>
<path d="M207.80,500.40H231.40" stroke="#aaa032" stroke-width="2.0"/><path d="M224.40,500.40L215.40,495.40L215.40,505.40Z" fill="#aaa032"/><g transform="translate(236.50,505.00) scale(0.9981,1)"><text x="0" y="0" class="lg" fill="#aaa032" stroke="#aaa032" stroke-width="0.2">TiO</text><text x="25.02" y="4.4" class="lg" style="font-size:11px" fill="#aaa032" stroke="#aaa032" stroke-width="0.15">2</text><text x="36.64" y="0" class="lg" fill="#aaa032" stroke="#aaa032" stroke-width="0.2">6.4 nm</text></g>
<path d="M544.30,307.80H570.50" stroke="#8c1414" stroke-width="2.0"/><rect x="553.40" y="303.80" width="8.00" height="8.00" fill="#8c1414"/><g transform="translate(574.00,312.40) scale(1.0200,1)"><text x="0" y="0" class="lg" fill="#8c1414" stroke="#8c1414" stroke-width="0.2">uncoated</text></g>
<path d="M544.30,329.50H570.50" stroke="#f08c2c" stroke-width="2.0"/><path d="M557.40,323.70L562.70,333.60L552.10,333.60Z" fill="#f08c2c"/><g transform="translate(574.00,334.10) scale(1.0418,1)"><text x="0" y="0" class="lg" fill="#f08c2c" stroke="#f08c2c" stroke-width="0.2">TiO</text><text x="25.02" y="4.4" class="lg" style="font-size:11px" fill="#f08c2c" stroke="#f08c2c" stroke-width="0.15">2</text><text x="34.74" y="0" class="lg" fill="#f08c2c" stroke="#f08c2c" stroke-width="0.2">0.8 nm</text></g>
<path d="M544.30,353.50H570.50" stroke="#1414f5" stroke-width="2.0"/><path d="M557.40,348.20L563.10,353.50L557.40,358.80L551.70,353.50Z" fill="#1414f5"/><g transform="translate(574.00,358.10) scale(1.0418,1)"><text x="0" y="0" class="lg" fill="#1414f5" stroke="#1414f5" stroke-width="0.2">TiO</text><text x="25.02" y="4.4" class="lg" style="font-size:11px" fill="#1414f5" stroke="#1414f5" stroke-width="0.15">2</text><text x="34.74" y="0" class="lg" fill="#1414f5" stroke="#1414f5" stroke-width="0.2">1.6 nm</text></g>
<path d="M544.30,378.10H570.50" stroke="#f53c96" stroke-width="2.0"/><circle cx="557.40" cy="378.10" r="4.6" fill="#f53c96"/><g transform="translate(574.00,382.70) scale(1.0350,1)"><text x="0" y="0" class="lg" fill="#f53c96" stroke="#f53c96" stroke-width="0.2">TiO</text><text x="25.02" y="4.4" class="lg" style="font-size:11px" fill="#f53c96" stroke="#f53c96" stroke-width="0.15">2</text><text x="36.64" y="0" class="lg" fill="#f53c96" stroke="#f53c96" stroke-width="0.2">3.2 nm</text></g>
<path d="M544.30,402.40H570.50" stroke="#2e8c22" stroke-width="2.0"/><path d="M557.40,397.50L552.36,401.16L554.28,407.09L560.52,407.09L562.44,401.16Z" fill="#2e8c22"/><g transform="translate(574.00,407.00) scale(1.0350,1)"><text x="0" y="0" class="lg" fill="#2e8c22" stroke="#2e8c22" stroke-width="0.2">TiO</text><text x="25.02" y="4.4" class="lg" style="font-size:11px" fill="#2e8c22" stroke="#2e8c22" stroke-width="0.15">2</text><text x="36.64" y="0" class="lg" fill="#2e8c22" stroke="#2e8c22" stroke-width="0.2">4.8 nm</text></g>
<path d="M544.30,423.00H570.50" stroke="#aaa032" stroke-width="2.0"/><path d="M562.20,423.00L553.20,418.00L553.20,428.00Z" fill="#aaa032"/><g transform="translate(574.00,427.60) scale(1.0183,1)"><text x="0" y="0" class="lg" fill="#aaa032" stroke="#aaa032" stroke-width="0.2">TiO</text><text x="25.02" y="4.4" class="lg" style="font-size:11px" fill="#aaa032" stroke="#aaa032" stroke-width="0.15">2</text><text x="36.64" y="0" class="lg" fill="#aaa032" stroke="#aaa032" stroke-width="0.2">6.4 nm</text></g>
<path d="M209.60,609.30H235.70" stroke="#8c1414" stroke-width="2.0"/><rect x="218.65" y="605.30" width="8.00" height="8.00" fill="#8c1414"/><g transform="translate(239.00,613.90) scale(1.0125,1)"><text x="0" y="0" class="lg" fill="#8c1414" stroke="#8c1414" stroke-width="0.2">uncoated</text></g>
<path d="M209.60,630.90H235.70" stroke="#f08c2c" stroke-width="2.0"/><path d="M222.65,625.10L227.95,635.00L217.35,635.00Z" fill="#f08c2c"/><g transform="translate(239.00,635.50) scale(1.0358,1)"><text x="0" y="0" class="lg" fill="#f08c2c" stroke="#f08c2c" stroke-width="0.2">TiO</text><text x="25.02" y="4.4" class="lg" style="font-size:11px" fill="#f08c2c" stroke="#f08c2c" stroke-width="0.15">2</text><text x="34.74" y="0" class="lg" fill="#f08c2c" stroke="#f08c2c" stroke-width="0.2">0.8 nm</text></g>
<path d="M209.60,654.40H235.70" stroke="#1414f5" stroke-width="2.0"/><path d="M222.65,649.10L228.35,654.40L222.65,659.70L216.95,654.40Z" fill="#1414f5"/><g transform="translate(239.00,659.00) scale(1.0309,1)"><text x="0" y="0" class="lg" fill="#1414f5" stroke="#1414f5" stroke-width="0.2">TiO</text><text x="25.02" y="4.4" class="lg" style="font-size:11px" fill="#1414f5" stroke="#1414f5" stroke-width="0.15">2</text><text x="34.74" y="0" class="lg" fill="#1414f5" stroke="#1414f5" stroke-width="0.2">1.6 nm</text></g>
<path d="M85.30,700.00H108.80" stroke="#f53c96" stroke-width="2.0"/><circle cx="97.05" cy="700.00" r="4.6" fill="#f53c96"/><g transform="translate(112.60,704.60) scale(0.9458,1)"><text x="0" y="0" class="lg" fill="#f53c96" stroke="#f53c96" stroke-width="0.2">TiO</text><text x="25.02" y="4.4" class="lg" style="font-size:11px" fill="#f53c96" stroke="#f53c96" stroke-width="0.15">2</text><text x="36.64" y="0" class="lg" fill="#f53c96" stroke="#f53c96" stroke-width="0.2">3.2 nm</text></g>
<path d="M85.30,722.80H108.80" stroke="#2e8c22" stroke-width="2.0"/><path d="M97.05,717.90L92.01,721.56L93.93,727.49L100.17,727.49L102.09,721.56Z" fill="#2e8c22"/><g transform="translate(112.60,727.40) scale(0.9458,1)"><text x="0" y="0" class="lg" fill="#2e8c22" stroke="#2e8c22" stroke-width="0.2">TiO</text><text x="25.02" y="4.4" class="lg" style="font-size:11px" fill="#2e8c22" stroke="#2e8c22" stroke-width="0.15">2</text><text x="36.64" y="0" class="lg" fill="#2e8c22" stroke="#2e8c22" stroke-width="0.2">4.8 nm</text></g>
<path d="M84.70,742.00H107.90" stroke="#aaa032" stroke-width="2.0"/><path d="M101.10,742.00L92.10,737.00L92.10,747.00Z" fill="#aaa032"/><g transform="translate(113.20,746.60) scale(1.0183,1)"><text x="0" y="0" class="lg" fill="#aaa032" stroke="#aaa032" stroke-width="0.2">TiO</text><text x="25.02" y="4.4" class="lg" style="font-size:11px" fill="#aaa032" stroke="#aaa032" stroke-width="0.15">2</text><text x="36.64" y="0" class="lg" fill="#aaa032" stroke="#aaa032" stroke-width="0.2">6.4 nm</text></g>
<path d="M419.70,611.40H445.40" stroke="#8c1414" stroke-width="2.0"/><rect x="428.55" y="607.40" width="8.00" height="8.00" fill="#8c1414"/><g transform="translate(449.60,616.00) scale(0.9975,1)"><text x="0" y="0" class="lg" fill="#8c1414" stroke="#8c1414" stroke-width="0.2">uncoated</text></g>
<path d="M419.70,632.90H445.40" stroke="#f08c2c" stroke-width="2.0"/><path d="M432.55,627.10L437.85,637.00L427.25,637.00Z" fill="#f08c2c"/><g transform="translate(449.60,637.50) scale(1.0345,1)"><text x="0" y="0" class="lg" fill="#f08c2c" stroke="#f08c2c" stroke-width="0.2">TiO</text><text x="25.02" y="4.4" class="lg" style="font-size:11px" fill="#f08c2c" stroke="#f08c2c" stroke-width="0.15">2</text><text x="34.74" y="0" class="lg" fill="#f08c2c" stroke="#f08c2c" stroke-width="0.2">0.8 nm</text></g>
<path d="M419.70,657.60H445.40" stroke="#1414f5" stroke-width="2.0"/><path d="M432.55,652.30L438.25,657.60L432.55,662.90L426.85,657.60Z" fill="#1414f5"/><g transform="translate(449.60,662.20) scale(1.0345,1)"><text x="0" y="0" class="lg" fill="#1414f5" stroke="#1414f5" stroke-width="0.2">TiO</text><text x="25.02" y="4.4" class="lg" style="font-size:11px" fill="#1414f5" stroke="#1414f5" stroke-width="0.15">2</text><text x="34.74" y="0" class="lg" fill="#1414f5" stroke="#1414f5" stroke-width="0.2">1.6 nm</text></g>
<path d="M548.00,706.70H571.90" stroke="#f53c96" stroke-width="2.0"/><circle cx="559.95" cy="706.70" r="4.6" fill="#f53c96"/><g transform="translate(575.90,711.30) scale(0.9435,1)"><text x="0" y="0" class="lg" fill="#f53c96" stroke="#f53c96" stroke-width="0.2">TiO</text><text x="25.02" y="4.4" class="lg" style="font-size:11px" fill="#f53c96" stroke="#f53c96" stroke-width="0.15">2</text><text x="36.64" y="0" class="lg" fill="#f53c96" stroke="#f53c96" stroke-width="0.2">3.2 nm</text></g>
<path d="M548.00,729.50H571.90" stroke="#2e8c22" stroke-width="2.0"/><path d="M559.95,724.60L554.91,728.26L556.83,734.19L563.07,734.19L564.99,728.26Z" fill="#2e8c22"/><g transform="translate(575.60,734.10) scale(0.9470,1)"><text x="0" y="0" class="lg" fill="#2e8c22" stroke="#2e8c22" stroke-width="0.2">TiO</text><text x="25.02" y="4.4" class="lg" style="font-size:11px" fill="#2e8c22" stroke="#2e8c22" stroke-width="0.15">2</text><text x="36.64" y="0" class="lg" fill="#2e8c22" stroke="#2e8c22" stroke-width="0.2">4.8 nm</text></g>
<path d="M546.60,751.70H570.00" stroke="#aaa032" stroke-width="2.0"/><path d="M563.10,751.70L554.10,746.70L554.10,756.70Z" fill="#aaa032"/><g transform="translate(575.60,756.30) scale(0.9637,1)"><text x="0" y="0" class="lg" fill="#aaa032" stroke="#aaa032" stroke-width="0.2">TiO</text><text x="25.02" y="4.4" class="lg" style="font-size:11px" fill="#aaa032" stroke="#aaa032" stroke-width="0.15">2</text><text x="36.64" y="0" class="lg" fill="#aaa032" stroke="#aaa032" stroke-width="0.2">6.4 nm</text></g>
<g transform="translate(83.90,41.30) scale(1.0691,1)"><text x="0" y="0" class="tt">ZNSS/TiO</text></g><text x="177.60" y="46.10" class="tt" style="font-size:13.5px">2</text>
<g transform="translate(422.60,39.90) scale(1.0588,1)"><text x="0" y="0" class="tt">ZNSS/TiO</text></g><text x="515.40" y="44.70" class="tt" style="font-size:13.5px">2</text>
<g transform="translate(86.80,319.10) scale(1.0462,1)"><text x="0" y="0" class="tt">ZNSS/TiO</text></g><text x="178.50" y="323.90" class="tt" style="font-size:13.5px">2</text>
<g transform="translate(441.20,313.40) scale(1.0542,1)"><text x="0" y="0" class="tt">ZNSS/TiO</text></g><text x="533.60" y="318.20" class="tt" style="font-size:13.5px">2</text>
<g transform="translate(212.70,592.30) scale(1.0599,1)"><text x="0" y="0" class="tt">ZNSS/TiO</text></g><text x="305.60" y="597.10" class="tt" style="font-size:13.5px">2</text>
<g transform="translate(424.60,594.90) scale(1.0554,1)"><text x="0" y="0" class="tt">ZNSS/TiO</text></g><text x="517.10" y="599.70" class="tt" style="font-size:13.5px">2</text>
<path d="M77.6,769.2H330" stroke="#ff2a1a" stroke-width="3.4" stroke-linecap="round" stroke-dasharray="13.1 19.3" clip-path="url(#ce)"/>
<text x="263.8" y="744.9" class="lg" fill="#f53c96" stroke="#f53c96" stroke-width="0.3" style="font-size:16px">873 K</text>
<text x="277" y="758.3" fill="#ff2a1a" style="font-family:'Liberation Serif',serif;font-style:italic;font-weight:bold;font-size:14.5px">κ</text>
<text x="284.2" y="760.6" fill="#ff2a1a" style="font-family:'Liberation Sans',sans-serif;font-style:italic;font-weight:bold;font-size:10.4px">L-min</text>
<path d="M321.3,737V781M316.3,772.6L321.3,781.4L326.2,772.6" stroke="#f53c96" stroke-width="1.8" fill="none"/>
<text x="-0.6" y="25.8" class="pl">a</text>
<text x="337.3" y="25.8" class="pl">b</text>
<text x="0.8" y="296.2" class="pl">c</text>
<text x="337.4" y="298.8" class="pl">d</text>
<text x="2.2" y="562.4" class="pl">e</text>
<text x="352.6" y="562.4" class="pl">f</text>
<text x="182.80" y="281.4" class="ax" style="font-style:italic">T</text>
<text x="198.60" y="281.4" class="ax" textLength="28.70" lengthAdjust="spacingAndGlyphs">(K)</text>
<text x="523.10" y="278.6" class="ax" style="font-style:italic">T</text>
<text x="538.90" y="278.6" class="ax" textLength="28.90" lengthAdjust="spacingAndGlyphs">(K)</text>
<text x="182.40" y="554.3" class="ax" style="font-style:italic">T</text>
<text x="198.20" y="554.3" class="ax" textLength="27.60" lengthAdjust="spacingAndGlyphs">(K)</text>
<text x="523.10" y="555" class="ax" style="font-style:italic">T</text>
<text x="538.90" y="555" class="ax" textLength="28.90" lengthAdjust="spacingAndGlyphs">(K)</text>
<text x="182.80" y="831.9" class="ax" style="font-style:italic">T</text>
<text x="198.60" y="831.9" class="ax" textLength="29.20" lengthAdjust="spacingAndGlyphs">(K)</text>
<text x="520.40" y="832.6" class="ax" style="font-style:italic">T</text>
<text x="536.20" y="832.6" class="ax" textLength="29.00" lengthAdjust="spacingAndGlyphs">(K)</text>
<path d="M20.4,181.6H39M20.4,150.6H39" stroke="#111" stroke-width="1.7"/>
<text transform="translate(38.20,171.00) rotate(-90)" x="0" y="0" class="ax" style="font-family:'Liberation Serif',serif;font-weight:normal;font-style:italic;stroke-width:0;font-size:23px" textLength="15.00" lengthAdjust="spacingAndGlyphs">α</text>
<text transform="translate(38.40,132.00) rotate(-90)" x="0" y="0" class="ax" style=";font-size:20.5px" textLength="65.40" lengthAdjust="spacingAndGlyphs">(μV/K)</text>
<text transform="translate(378.10,184.60) rotate(-90)" x="0" y="0" class="ax" style="font-style:italic;font-size:21px" textLength="14.20" lengthAdjust="spacingAndGlyphs">σ</text>
<text transform="translate(378.10,168.20) rotate(-90)" x="0" y="0" class="ax" style=";font-size:21.6px" textLength="97.20" lengthAdjust="spacingAndGlyphs">(10 S/cm)</text>
<text transform="translate(46.80,480.40) rotate(-90)" x="0" y="0" class="ax" style="font-style:italic;font-size:21px" textLength="28.00" lengthAdjust="spacingAndGlyphs">PF</text>
<text transform="translate(46.80,446.00) rotate(-90)" x="0" y="0" class="ax" style=";font-size:21.6px" textLength="72.80" lengthAdjust="spacingAndGlyphs">(μWcm</text>
<text transform="translate(39.00,374.00) rotate(-90)" x="0" y="0" class="ax" style=";font-size:13.5px" textLength="14.00" lengthAdjust="spacingAndGlyphs">-1</text>
<text transform="translate(46.80,360.20) rotate(-90)" x="0" y="0" class="ax" style=";font-size:21.6px" textLength="16.40" lengthAdjust="spacingAndGlyphs">K</text>
<text transform="translate(39.00,344.00) rotate(-90)" x="0" y="0" class="ax" style=";font-size:13.5px" textLength="13.40" lengthAdjust="spacingAndGlyphs">-2</text>
<text transform="translate(46.80,331.00) rotate(-90)" x="0" y="0" class="ax" style=";font-size:21.6px" textLength="6.40" lengthAdjust="spacingAndGlyphs">)</text>
<text transform="translate(378.20,459.40) rotate(-90)" x="0" y="0" class="ax" style="font-family:'Liberation Serif',serif;font-weight:normal;font-style:italic;stroke-width:0;font-size:19px" textLength="12.80" lengthAdjust="spacingAndGlyphs">κ</text>
<text transform="translate(378.20,442.60) rotate(-90)" x="0" y="0" class="ax" style=";font-size:21.6px" textLength="50.80" lengthAdjust="spacingAndGlyphs">(Wm</text>
<text transform="translate(368.80,391.40) rotate(-90)" x="0" y="0" class="ax" style=";font-size:13.5px" textLength="12.00" lengthAdjust="spacingAndGlyphs">-1</text>
<text transform="translate(378.20,378.40) rotate(-90)" x="0" y="0" class="ax" style=";font-size:21.6px" textLength="15.20" lengthAdjust="spacingAndGlyphs">K</text>
<text transform="translate(368.80,364.20) rotate(-90)" x="0" y="0" class="ax" style=";font-size:13.5px" textLength="12.60" lengthAdjust="spacingAndGlyphs">-1</text>
<text transform="translate(378.20,353.00) rotate(-90)" x="0" y="0" class="ax" style=";font-size:21.6px" textLength="10.20" lengthAdjust="spacingAndGlyphs">)</text>
<text transform="translate(38.30,740.40) rotate(-90)" x="0" y="0" class="ax" style="font-family:'Liberation Serif',serif;font-weight:normal;font-style:italic;stroke-width:0;font-size:19px" textLength="11.00" lengthAdjust="spacingAndGlyphs">κ</text>
<text transform="translate(44.20,730.00) rotate(-90)" x="0" y="0" class="ax" style="font-weight:normal;font-size:13.5px" textLength="7.20" lengthAdjust="spacingAndGlyphs">L</text>
<text transform="translate(38.30,717.40) rotate(-90)" x="0" y="0" class="ax" style=";font-size:21.6px" textLength="52.20" lengthAdjust="spacingAndGlyphs">(Wm</text>
<text transform="translate(30.20,664.80) rotate(-90)" x="0" y="0" class="ax" style=";font-size:13.5px" textLength="12.00" lengthAdjust="spacingAndGlyphs">-1</text>
<text transform="translate(38.30,651.40) rotate(-90)" x="0" y="0" class="ax" style=";font-size:21.6px" textLength="15.20" lengthAdjust="spacingAndGlyphs">K</text>
<text transform="translate(30.20,637.20) rotate(-90)" x="0" y="0" class="ax" style=";font-size:13.5px" textLength="13.40" lengthAdjust="spacingAndGlyphs">-1</text>
<text transform="translate(38.30,625.00) rotate(-90)" x="0" y="0" class="ax" style=";font-size:21.6px" textLength="9.80" lengthAdjust="spacingAndGlyphs">)</text>
<text transform="translate(379.50,692.40) rotate(-90)" x="0" y="0" class="ax" style="font-style:italic;font-size:22px" textLength="29.40" lengthAdjust="spacingAndGlyphs">zT</text>
</svg></body></html>
